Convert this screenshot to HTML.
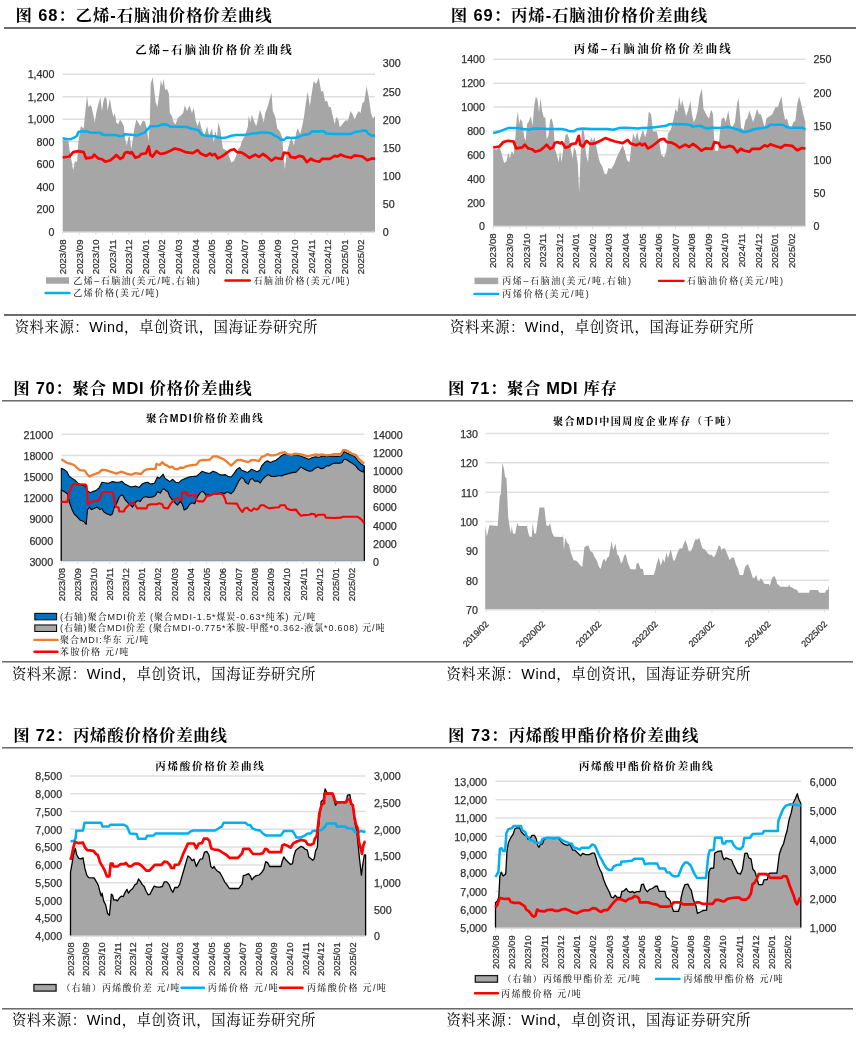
<!DOCTYPE html>
<html lang="zh-CN"><head><meta charset="utf-8"><title>图表</title>
<style>
html,body{margin:0;padding:0;background:#fff;}
body{width:862px;height:1059px;overflow:hidden;}
svg{display:block;}
text{font-family:"Liberation Sans","Noto Sans CJK SC",sans-serif;fill:#000;}
.ax{fill:#303030;stroke:#303030;stroke-width:0.25px;}
.hd{font-weight:bold;font-family:"Liberation Sans","Noto Serif CJK SC",serif;}
.src{font-family:"Liberation Sans","Noto Serif CJK SC",serif;}
.ct{font-weight:bold;font-family:"Liberation Sans","Noto Serif CJK SC",serif;fill:#000;}
.lg{font-family:"Liberation Sans","Noto Serif CJK SC",serif;fill:#262626;font-weight:500;}
</style></head><body>
<svg width="862" height="1059" viewBox="0 0 862 1059">
<rect width="862" height="1059" fill="#fff"/>
<rect x="4" y="27" width="852" height="2" fill="#6C6C6C"/>
<rect x="4" y="314" width="852" height="2" fill="#6C6C6C"/>
<rect x="2" y="400" width="851" height="1.55" fill="#6C6C6C"/>
<rect x="2" y="661" width="851" height="1.55" fill="#6C6C6C"/>
<rect x="2" y="747" width="851" height="1.55" fill="#6C6C6C"/>
<rect x="2" y="1008" width="851" height="1.55" fill="#6C6C6C"/>
<text x="15.40" y="20.60" font-size="16.46" text-anchor="start" class="hd" textLength="256.4" lengthAdjust="spacing">图 68：乙烯-石脑油价格价差曲线</text>
<text x="450.80" y="20.60" font-size="16.46" text-anchor="start" class="hd" textLength="256.3" lengthAdjust="spacing">图 69：丙烯-石脑油价格价差曲线</text>
<text x="13.30" y="393.80" font-size="16.46" text-anchor="start" class="hd" textLength="238.3" lengthAdjust="spacing">图 70：聚合 MDI 价格价差曲线</text>
<text x="448.10" y="393.80" font-size="16.46" text-anchor="start" class="hd" textLength="168.9" lengthAdjust="spacing">图 71：聚合 MDI 库存</text>
<text x="13.30" y="740.80" font-size="16.46" text-anchor="start" class="hd" textLength="213.7" lengthAdjust="spacing">图 72：丙烯酸价格价差曲线</text>
<text x="448.10" y="740.80" font-size="16.46" text-anchor="start" class="hd" textLength="250.3" lengthAdjust="spacing">图 73：丙烯酸甲酯价格价差曲线</text>
<text x="14.70" y="331.60" font-size="14.4" text-anchor="start" class="src" textLength="302.7" lengthAdjust="spacing">资料来源：Wind，卓创资讯，国海证券研究所</text>
<text x="450.10" y="331.60" font-size="14.4" text-anchor="start" class="src" textLength="303.5" lengthAdjust="spacing">资料来源：Wind，卓创资讯，国海证券研究所</text>
<text x="11.90" y="678.90" font-size="14.4" text-anchor="start" class="src" textLength="303.5" lengthAdjust="spacing">资料来源：Wind，卓创资讯，国海证券研究所</text>
<text x="446.40" y="678.90" font-size="14.4" text-anchor="start" class="src" textLength="303.9" lengthAdjust="spacing">资料来源：Wind，卓创资讯，国海证券研究所</text>
<text x="11.90" y="1024.90" font-size="14.4" text-anchor="start" class="src" textLength="303.5" lengthAdjust="spacing">资料来源：Wind，卓创资讯，国海证券研究所</text>
<text x="446.40" y="1024.90" font-size="14.4" text-anchor="start" class="src" textLength="303.9" lengthAdjust="spacing">资料来源：Wind，卓创资讯，国海证券研究所</text>
<line x1="62.70" y1="74.30" x2="375.00" y2="74.30" stroke="#DFDFDF" stroke-width="1.5"/>
<line x1="62.70" y1="96.81" x2="375.00" y2="96.81" stroke="#DFDFDF" stroke-width="1.5"/>
<line x1="62.70" y1="119.33" x2="375.00" y2="119.33" stroke="#DFDFDF" stroke-width="1.5"/>
<line x1="62.70" y1="141.84" x2="375.00" y2="141.84" stroke="#DFDFDF" stroke-width="1.5"/>
<line x1="62.70" y1="164.36" x2="375.00" y2="164.36" stroke="#DFDFDF" stroke-width="1.5"/>
<line x1="62.70" y1="186.87" x2="375.00" y2="186.87" stroke="#DFDFDF" stroke-width="1.5"/>
<line x1="62.70" y1="209.39" x2="375.00" y2="209.39" stroke="#DFDFDF" stroke-width="1.5"/>
<line x1="62.70" y1="231.90" x2="375.00" y2="231.90" stroke="#DFDFDF" stroke-width="1.5"/>
<line x1="62.70" y1="232.20" x2="375.00" y2="232.20" stroke="#DFDFDF" stroke-width="1.2"/>
<path d="M62.7 139.7 L68.4 140.6 L69.4 149.2 L73.2 170.3 L75.1 160.7 L77.0 162.6 L78.4 141.6 L80.8 126.3 L83.7 128.2 L85.2 112.9 L87.0 96.0 L88.5 107.1 L90.0 105.2 L91.4 106.2 L93.3 114.8 L94.8 122.4 L96.2 112.9 L98.1 105.2 L100.4 97.2 L101.9 110.9 L103.8 99.5 L105.2 96.6 L106.7 99.5 L107.6 110.9 L109.9 98.5 L111.5 109.0 L113.4 116.7 L114.9 112.9 L116.3 122.4 L118.2 124.3 L120.1 119.6 L122.0 122.4 L123.9 126.3 L124.9 137.7 L126.8 145.4 L128.3 137.7 L129.7 135.8 L131.2 149.2 L132.5 141.6 L134.4 128.2 L136.4 119.6 L138.3 122.4 L140.2 126.3 L143.1 120.5 L145.0 121.5 L146.9 128.2 L148.4 141.6 L149.8 122.4 L150.7 84.1 L152.6 76.9 L154.2 89.9 L155.5 101.4 L157.4 107.1 L159.3 93.7 L160.9 79.4 L162.2 86.1 L163.7 78.8 L165.1 89.9 L167.0 88.9 L168.9 93.7 L169.8 112.9 L171.8 115.7 L173.7 122.4 L175.6 124.3 L177.5 118.6 L180.4 115.7 L183.2 112.9 L184.8 105.2 L187.1 110.9 L189.6 105.2 L191.9 112.9 L193.8 108.1 L195.7 120.5 L197.6 126.3 L199.5 120.5 L201.4 128.2 L204.3 135.8 L207.2 126.3 L209.1 135.8 L212.0 128.2 L213.9 143.5 L215.0 130.1 L216.9 137.7 L218.4 122.4 L220.4 130.1 L221.9 141.6 L223.0 148.8 L226.5 150.2 L229.4 156.9 L231.3 162.6 L234.1 160.7 L236.4 155.0 L238.0 149.6 L240.3 146.4 L241.8 141.6 L243.7 137.7 L245.6 133.9 L247.9 126.3 L248.7 115.7 L250.4 122.4 L251.8 114.8 L254.2 121.5 L256.2 126.3 L258.1 118.6 L260.0 109.4 L261.9 115.7 L263.8 122.4 L265.2 112.9 L267.6 107.1 L269.6 99.5 L271.5 92.8 L272.8 110.9 L275.3 116.7 L277.2 128.2 L280.1 132.0 L282.4 137.7 L283.5 156.9 L284.9 169.3 L286.2 156.9 L287.7 149.2 L290.0 141.6 L291.6 137.7 L293.9 145.4 L296.4 132.0 L297.7 128.2 L300.2 133.9 L302.1 126.3 L304.0 116.7 L305.9 102.3 L307.8 91.8 L309.8 106.2 L311.7 93.7 L313.6 81.3 L316.1 84.1 L318.7 77.4 L321.2 91.8 L323.1 90.8 L325.1 101.4 L327.0 100.4 L328.9 107.1 L330.8 107.1 L332.7 115.7 L334.6 124.3 L336.5 116.7 L338.5 120.5 L339.8 127.2 L342.3 124.3 L345.2 120.5 L348.0 120.5 L350.5 110.9 L352.8 114.8 L354.7 119.6 L356.6 114.8 L358.6 110.9 L360.5 112.9 L362.4 103.3 L364.3 101.4 L366.6 86.1 L369.1 99.5 L371.0 112.9 L372.9 118.6 L375.0 115.7 L375.0 231.4 L62.7 231.4 Z" fill="#A6A6A6"/>
<path d="M62.7 138.3 L66.5 138.9 L70.3 139.3 L74.1 137.7 L77.0 135.8 L78.4 132.0 L80.8 131.4 L87.5 131.6 L89.5 132.4 L100.0 132.8 L101.9 134.3 L104.8 135.1 L116.3 135.1 L120.1 136.2 L123.0 135.8 L124.9 134.3 L131.6 134.7 L137.3 135.4 L141.1 133.9 L145.0 132.4 L147.8 129.1 L150.3 126.3 L158.4 125.9 L162.2 124.3 L167.9 124.9 L169.8 126.6 L187.1 127.0 L190.9 128.5 L198.6 130.1 L201.4 134.3 L204.3 135.4 L213.9 136.2 L215.0 136.2 L217.9 137.4 L222.7 138.1 L226.5 137.4 L231.3 135.8 L236.1 135.1 L243.7 135.1 L253.3 133.5 L260.9 132.4 L266.7 132.4 L271.5 133.5 L274.3 135.4 L278.2 137.4 L281.0 139.7 L284.3 139.7 L286.8 137.4 L291.6 138.1 L297.3 137.4 L303.1 134.9 L308.8 134.3 L311.7 131.6 L324.1 131.2 L326.0 133.5 L337.5 133.9 L350.9 133.9 L354.7 132.0 L360.5 131.2 L363.3 130.5 L366.2 130.8 L368.1 133.5 L372.0 135.8 L375.0 135.4" fill="none" stroke="#00B0F0" stroke-width="2.5" stroke-linejoin="round" stroke-linecap="butt"/>
<path d="M62.7 157.5 L69.4 156.5 L73.2 152.1 L78.0 151.1 L83.7 152.1 L86.0 158.4 L92.3 157.3 L94.2 154.6 L98.1 158.4 L101.9 159.2 L105.2 161.7 L110.5 160.3 L114.3 156.9 L116.3 155.0 L120.1 158.8 L123.0 157.3 L124.9 152.7 L127.7 152.1 L130.6 153.4 L131.6 152.1 L135.4 157.8 L139.2 156.5 L141.1 154.0 L145.9 153.4 L148.8 146.4 L150.3 155.0 L152.6 156.5 L156.5 151.1 L160.3 154.0 L164.1 153.4 L169.8 151.1 L174.6 148.5 L179.4 149.6 L185.2 152.1 L192.8 153.1 L197.6 150.2 L200.5 153.4 L206.2 155.9 L210.0 153.4 L212.0 155.3 L214.8 154.0 L217.9 158.4 L221.7 156.5 L226.5 153.1 L230.3 150.2 L234.1 149.2 L237.0 152.1 L241.8 152.7 L245.6 155.0 L249.5 157.8 L255.2 154.6 L259.0 156.9 L262.9 154.0 L266.7 156.5 L271.5 160.7 L275.3 157.8 L278.2 158.4 L282.0 158.8 L283.9 152.7 L288.7 153.4 L290.6 156.9 L295.4 157.8 L299.2 155.9 L303.1 156.9 L306.9 162.2 L310.7 158.8 L314.5 160.7 L319.3 161.7 L322.2 158.8 L329.8 158.8 L334.6 155.9 L337.5 156.5 L340.4 154.6 L345.2 156.5 L350.9 157.8 L354.7 155.3 L362.4 156.5 L367.2 160.3 L372.0 158.4 L375.0 158.8" fill="none" stroke="#FF0000" stroke-width="2.7" stroke-linejoin="round" stroke-linecap="butt"/>
<line x1="62.70" y1="231.90" x2="62.70" y2="234.90" stroke="#DFDFDF" stroke-width="1"/>
<line x1="79.27" y1="231.90" x2="79.27" y2="234.90" stroke="#DFDFDF" stroke-width="1"/>
<line x1="95.84" y1="231.90" x2="95.84" y2="234.90" stroke="#DFDFDF" stroke-width="1"/>
<line x1="112.41" y1="231.90" x2="112.41" y2="234.90" stroke="#DFDFDF" stroke-width="1"/>
<line x1="128.98" y1="231.90" x2="128.98" y2="234.90" stroke="#DFDFDF" stroke-width="1"/>
<line x1="145.55" y1="231.90" x2="145.55" y2="234.90" stroke="#DFDFDF" stroke-width="1"/>
<line x1="162.12" y1="231.90" x2="162.12" y2="234.90" stroke="#DFDFDF" stroke-width="1"/>
<line x1="178.69" y1="231.90" x2="178.69" y2="234.90" stroke="#DFDFDF" stroke-width="1"/>
<line x1="195.26" y1="231.90" x2="195.26" y2="234.90" stroke="#DFDFDF" stroke-width="1"/>
<line x1="211.83" y1="231.90" x2="211.83" y2="234.90" stroke="#DFDFDF" stroke-width="1"/>
<line x1="228.40" y1="231.90" x2="228.40" y2="234.90" stroke="#DFDFDF" stroke-width="1"/>
<line x1="244.97" y1="231.90" x2="244.97" y2="234.90" stroke="#DFDFDF" stroke-width="1"/>
<line x1="261.54" y1="231.90" x2="261.54" y2="234.90" stroke="#DFDFDF" stroke-width="1"/>
<line x1="278.11" y1="231.90" x2="278.11" y2="234.90" stroke="#DFDFDF" stroke-width="1"/>
<line x1="294.68" y1="231.90" x2="294.68" y2="234.90" stroke="#DFDFDF" stroke-width="1"/>
<line x1="311.25" y1="231.90" x2="311.25" y2="234.90" stroke="#DFDFDF" stroke-width="1"/>
<line x1="327.82" y1="231.90" x2="327.82" y2="234.90" stroke="#DFDFDF" stroke-width="1"/>
<line x1="344.39" y1="231.90" x2="344.39" y2="234.90" stroke="#DFDFDF" stroke-width="1"/>
<line x1="360.96" y1="231.90" x2="360.96" y2="234.90" stroke="#DFDFDF" stroke-width="1"/>
<text x="54.40" y="78.40" font-size="10.7" text-anchor="end" class="ax">1,400</text>
<text x="54.40" y="100.91" font-size="10.7" text-anchor="end" class="ax">1,200</text>
<text x="54.40" y="123.43" font-size="10.7" text-anchor="end" class="ax">1,000</text>
<text x="54.40" y="145.94" font-size="10.7" text-anchor="end" class="ax">800</text>
<text x="54.40" y="168.46" font-size="10.7" text-anchor="end" class="ax">600</text>
<text x="54.40" y="190.97" font-size="10.7" text-anchor="end" class="ax">400</text>
<text x="54.40" y="213.49" font-size="10.7" text-anchor="end" class="ax">200</text>
<text x="54.40" y="236.00" font-size="10.7" text-anchor="end" class="ax">0</text>
<text x="382.80" y="67.40" font-size="10.7" text-anchor="start" class="ax">300</text>
<text x="382.80" y="95.50" font-size="10.7" text-anchor="start" class="ax">250</text>
<text x="382.80" y="123.60" font-size="10.7" text-anchor="start" class="ax">200</text>
<text x="382.80" y="151.70" font-size="10.7" text-anchor="start" class="ax">150</text>
<text x="382.80" y="179.80" font-size="10.7" text-anchor="start" class="ax">100</text>
<text x="382.80" y="207.90" font-size="10.7" text-anchor="start" class="ax">50</text>
<text x="382.80" y="236.00" font-size="10.7" text-anchor="start" class="ax">0</text>
<text x="66.00" y="239.50" font-size="9.6" text-anchor="end" class="ax" transform="rotate(-90 66.00 239.50)">2023/08</text>
<text x="82.57" y="239.50" font-size="9.6" text-anchor="end" class="ax" transform="rotate(-90 82.57 239.50)">2023/09</text>
<text x="99.14" y="239.50" font-size="9.6" text-anchor="end" class="ax" transform="rotate(-90 99.14 239.50)">2023/10</text>
<text x="115.71" y="239.50" font-size="9.6" text-anchor="end" class="ax" transform="rotate(-90 115.71 239.50)">2023/11</text>
<text x="132.28" y="239.50" font-size="9.6" text-anchor="end" class="ax" transform="rotate(-90 132.28 239.50)">2023/12</text>
<text x="148.85" y="239.50" font-size="9.6" text-anchor="end" class="ax" transform="rotate(-90 148.85 239.50)">2024/01</text>
<text x="165.42" y="239.50" font-size="9.6" text-anchor="end" class="ax" transform="rotate(-90 165.42 239.50)">2024/02</text>
<text x="181.99" y="239.50" font-size="9.6" text-anchor="end" class="ax" transform="rotate(-90 181.99 239.50)">2024/03</text>
<text x="198.56" y="239.50" font-size="9.6" text-anchor="end" class="ax" transform="rotate(-90 198.56 239.50)">2024/04</text>
<text x="215.13" y="239.50" font-size="9.6" text-anchor="end" class="ax" transform="rotate(-90 215.13 239.50)">2024/05</text>
<text x="231.70" y="239.50" font-size="9.6" text-anchor="end" class="ax" transform="rotate(-90 231.70 239.50)">2024/06</text>
<text x="248.27" y="239.50" font-size="9.6" text-anchor="end" class="ax" transform="rotate(-90 248.27 239.50)">2024/07</text>
<text x="264.84" y="239.50" font-size="9.6" text-anchor="end" class="ax" transform="rotate(-90 264.84 239.50)">2024/08</text>
<text x="281.41" y="239.50" font-size="9.6" text-anchor="end" class="ax" transform="rotate(-90 281.41 239.50)">2024/09</text>
<text x="297.98" y="239.50" font-size="9.6" text-anchor="end" class="ax" transform="rotate(-90 297.98 239.50)">2024/10</text>
<text x="314.55" y="239.50" font-size="9.6" text-anchor="end" class="ax" transform="rotate(-90 314.55 239.50)">2024/11</text>
<text x="331.12" y="239.50" font-size="9.6" text-anchor="end" class="ax" transform="rotate(-90 331.12 239.50)">2024/12</text>
<text x="347.69" y="239.50" font-size="9.6" text-anchor="end" class="ax" transform="rotate(-90 347.69 239.50)">2025/01</text>
<text x="364.26" y="239.50" font-size="9.6" text-anchor="end" class="ax" transform="rotate(-90 364.26 239.50)">2025/02</text>
<text x="135.20" y="54.30" font-size="11.44" text-anchor="start" class="ct" textLength="156.6" lengthAdjust="spacing">乙烯–石脑油价格价差曲线</text>
<rect x="46.00" y="277.25" width="23.00" height="6.50" fill="#A6A6A6"/>
<text x="73.30" y="283.70" font-size="9.0" text-anchor="start" class="lg" textLength="126.4" lengthAdjust="spacing">乙烯–石脑油(美元/吨,右轴)</text>
<line x1="225.50" y1="280.50" x2="249.80" y2="280.50" stroke="#FF0000" stroke-width="2.4" stroke-linecap="round"/>
<text x="253.40" y="283.70" font-size="9.0" text-anchor="start" class="lg" textLength="96.0" lengthAdjust="spacing">石脑油价格(美元/吨)</text>
<line x1="45.50" y1="293.00" x2="69.50" y2="293.00" stroke="#00B0F0" stroke-width="2.4" stroke-linecap="round"/>
<text x="73.30" y="296.20" font-size="9.0" text-anchor="start" class="lg" textLength="85.5" lengthAdjust="spacing">乙烯价格(美元/吨)</text>
<line x1="493.20" y1="59.30" x2="805.50" y2="59.30" stroke="#DFDFDF" stroke-width="1.5"/>
<line x1="493.20" y1="83.16" x2="805.50" y2="83.16" stroke="#DFDFDF" stroke-width="1.5"/>
<line x1="493.20" y1="107.01" x2="805.50" y2="107.01" stroke="#DFDFDF" stroke-width="1.5"/>
<line x1="493.20" y1="130.87" x2="805.50" y2="130.87" stroke="#DFDFDF" stroke-width="1.5"/>
<line x1="493.20" y1="154.73" x2="805.50" y2="154.73" stroke="#DFDFDF" stroke-width="1.5"/>
<line x1="493.20" y1="178.59" x2="805.50" y2="178.59" stroke="#DFDFDF" stroke-width="1.5"/>
<line x1="493.20" y1="202.44" x2="805.50" y2="202.44" stroke="#DFDFDF" stroke-width="1.5"/>
<line x1="493.20" y1="226.30" x2="805.50" y2="226.30" stroke="#DFDFDF" stroke-width="1.5"/>
<line x1="493.20" y1="226.60" x2="805.50" y2="226.60" stroke="#DFDFDF" stroke-width="1.2"/>
<path d="M493.2 148.8 L496.5 149.8 L499.4 146.9 L501.3 152.6 L504.1 163.1 L506.4 161.2 L508.4 152.6 L509.9 158.4 L511.8 150.7 L513.7 154.5 L515.2 139.2 L516.6 120.1 L517.9 111.5 L519.1 123.9 L520.4 119.1 L522.3 122.0 L524.2 137.3 L525.6 141.1 L527.1 123.9 L528.6 122.0 L530.9 116.3 L532.5 125.8 L534.4 104.8 L535.9 96.2 L537.6 100.0 L539.0 112.4 L540.5 98.1 L542.0 110.5 L544.0 118.2 L545.3 116.3 L546.6 139.2 L548.5 135.4 L550.1 120.1 L551.6 118.2 L553.5 125.8 L554.9 148.8 L556.8 154.5 L558.7 162.2 L560.0 150.7 L561.6 162.2 L563.5 146.9 L565.4 135.4 L567.3 133.5 L569.2 139.2 L571.1 150.7 L572.7 158.4 L574.0 146.9 L575.9 150.7 L577.8 164.1 L579.2 192.8 L580.3 162.2 L581.7 131.6 L583.0 127.7 L584.5 135.4 L586.1 154.5 L588.0 162.2 L589.3 145.0 L591.2 137.3 L592.6 141.1 L594.5 137.3 L596.0 145.0 L597.9 154.5 L599.8 162.2 L602.1 166.0 L604.6 173.7 L606.5 174.6 L608.5 167.9 L611.3 168.9 L614.2 164.1 L617.1 156.5 L619.9 150.7 L622.8 145.0 L624.7 150.7 L627.0 160.3 L629.5 162.2 L631.4 145.0 L633.3 133.5 L635.3 139.2 L637.2 131.6 L639.1 141.1 L641.0 135.4 L642.9 129.7 L645.0 137.3 L646.9 131.6 L648.8 111.5 L651.1 114.3 L653.0 131.6 L655.0 131.6 L656.9 131.6 L659.4 143.1 L661.3 154.5 L664.1 157.4 L666.4 150.7 L668.0 133.5 L670.8 129.7 L673.7 118.2 L675.6 108.6 L677.5 112.4 L679.1 96.2 L681.0 106.7 L682.3 100.0 L684.2 108.6 L686.2 116.3 L688.1 110.5 L690.4 100.9 L691.9 114.3 L693.8 122.0 L695.7 118.2 L697.6 110.5 L699.6 96.2 L701.9 88.5 L703.4 108.6 L705.3 112.4 L707.2 116.3 L709.1 118.2 L711.0 109.6 L713.0 114.3 L713.9 135.4 L715.1 150.7 L718.1 150.7 L720.0 131.6 L721.6 119.1 L723.9 117.2 L725.8 122.0 L728.3 110.5 L730.2 123.9 L732.1 127.7 L735.0 122.0 L736.9 104.8 L738.4 97.5 L739.8 112.4 L741.1 127.7 L743.6 129.7 L745.5 120.1 L747.4 118.2 L749.3 110.5 L751.2 116.3 L753.1 122.0 L755.1 116.3 L757.0 108.6 L758.9 114.3 L760.8 114.3 L762.7 120.1 L764.6 127.7 L766.5 118.2 L769.4 116.3 L772.3 114.3 L775.2 107.6 L778.0 106.7 L779.9 100.9 L781.5 96.2 L783.2 110.5 L785.1 120.1 L787.0 118.2 L788.9 125.8 L791.4 127.7 L793.3 122.0 L795.3 121.0 L797.2 104.8 L799.1 96.2 L801.0 102.9 L802.9 112.4 L805.4 122.0 L805.4 225.8 L493.2 225.8 Z" fill="#A6A6A6"/>
<path d="M493.2 133.1 L496.5 132.3 L500.3 131.2 L504.1 129.7 L508.0 128.1 L517.5 128.1 L523.3 128.9 L529.0 129.7 L534.8 128.5 L542.4 128.7 L550.1 128.9 L561.6 128.9 L565.4 129.7 L569.2 131.2 L574.0 131.2 L576.9 129.3 L582.6 128.5 L592.2 128.9 L607.5 128.9 L613.2 129.7 L619.0 128.1 L624.7 127.7 L630.5 128.1 L638.1 128.5 L643.9 127.7 L645.0 128.1 L652.7 127.4 L660.3 126.6 L666.1 125.8 L668.9 124.3 L673.7 123.9 L683.3 124.3 L690.0 124.7 L692.9 126.6 L700.5 125.8 L704.3 127.7 L708.2 128.5 L712.0 127.7 L719.7 128.1 L727.3 127.0 L733.1 128.1 L738.8 130.0 L743.6 132.3 L748.4 131.2 L754.1 129.3 L761.8 128.1 L767.5 127.0 L770.4 124.7 L782.8 124.7 L786.6 127.0 L790.5 127.7 L802.0 127.7 L805.4 129.3" fill="none" stroke="#00B0F0" stroke-width="2.5" stroke-linejoin="round" stroke-linecap="butt"/>
<path d="M493.2 147.5 L499.4 146.5 L503.2 142.1 L508.0 140.8 L513.7 141.5 L516.0 148.4 L522.3 147.3 L524.8 144.6 L528.1 148.4 L531.9 149.2 L535.2 151.7 L540.5 150.3 L544.3 146.9 L546.6 144.6 L550.1 148.8 L553.0 147.3 L554.9 142.7 L557.7 142.1 L560.6 143.4 L561.9 142.1 L565.4 147.8 L569.2 146.5 L571.5 144.0 L575.9 143.4 L578.8 135.8 L580.3 145.0 L583.0 146.5 L586.5 140.8 L590.3 144.0 L594.5 143.4 L599.8 141.1 L605.2 138.1 L609.4 139.6 L615.2 141.5 L622.8 143.1 L627.6 139.8 L630.5 143.4 L636.2 145.3 L640.0 143.4 L642.0 145.3 L644.8 143.6 L647.9 148.4 L651.7 146.5 L656.5 142.7 L660.3 139.6 L664.1 138.8 L667.0 142.1 L671.8 142.7 L675.6 144.6 L679.5 147.8 L685.2 144.6 L689.0 146.9 L692.9 144.0 L696.7 146.5 L701.5 150.7 L705.3 148.4 L712.0 148.8 L714.3 142.1 L718.7 143.1 L720.6 146.9 L725.4 147.3 L729.2 145.9 L733.1 146.9 L737.3 152.2 L740.7 148.8 L744.5 150.7 L749.3 151.7 L752.2 148.8 L759.8 148.8 L764.6 145.3 L767.5 146.5 L770.4 144.2 L775.2 145.9 L780.9 147.8 L784.7 145.0 L792.4 145.9 L797.2 150.3 L802.0 148.0 L805.4 148.8" fill="none" stroke="#FF0000" stroke-width="2.7" stroke-linejoin="round" stroke-linecap="butt"/>
<line x1="493.20" y1="226.30" x2="493.20" y2="229.30" stroke="#DFDFDF" stroke-width="1"/>
<line x1="509.77" y1="226.30" x2="509.77" y2="229.30" stroke="#DFDFDF" stroke-width="1"/>
<line x1="526.34" y1="226.30" x2="526.34" y2="229.30" stroke="#DFDFDF" stroke-width="1"/>
<line x1="542.91" y1="226.30" x2="542.91" y2="229.30" stroke="#DFDFDF" stroke-width="1"/>
<line x1="559.48" y1="226.30" x2="559.48" y2="229.30" stroke="#DFDFDF" stroke-width="1"/>
<line x1="576.05" y1="226.30" x2="576.05" y2="229.30" stroke="#DFDFDF" stroke-width="1"/>
<line x1="592.62" y1="226.30" x2="592.62" y2="229.30" stroke="#DFDFDF" stroke-width="1"/>
<line x1="609.19" y1="226.30" x2="609.19" y2="229.30" stroke="#DFDFDF" stroke-width="1"/>
<line x1="625.76" y1="226.30" x2="625.76" y2="229.30" stroke="#DFDFDF" stroke-width="1"/>
<line x1="642.33" y1="226.30" x2="642.33" y2="229.30" stroke="#DFDFDF" stroke-width="1"/>
<line x1="658.90" y1="226.30" x2="658.90" y2="229.30" stroke="#DFDFDF" stroke-width="1"/>
<line x1="675.47" y1="226.30" x2="675.47" y2="229.30" stroke="#DFDFDF" stroke-width="1"/>
<line x1="692.04" y1="226.30" x2="692.04" y2="229.30" stroke="#DFDFDF" stroke-width="1"/>
<line x1="708.61" y1="226.30" x2="708.61" y2="229.30" stroke="#DFDFDF" stroke-width="1"/>
<line x1="725.18" y1="226.30" x2="725.18" y2="229.30" stroke="#DFDFDF" stroke-width="1"/>
<line x1="741.75" y1="226.30" x2="741.75" y2="229.30" stroke="#DFDFDF" stroke-width="1"/>
<line x1="758.32" y1="226.30" x2="758.32" y2="229.30" stroke="#DFDFDF" stroke-width="1"/>
<line x1="774.89" y1="226.30" x2="774.89" y2="229.30" stroke="#DFDFDF" stroke-width="1"/>
<line x1="791.46" y1="226.30" x2="791.46" y2="229.30" stroke="#DFDFDF" stroke-width="1"/>
<text x="485.00" y="63.40" font-size="10.7" text-anchor="end" class="ax">1400</text>
<text x="485.00" y="87.26" font-size="10.7" text-anchor="end" class="ax">1200</text>
<text x="485.00" y="111.11" font-size="10.7" text-anchor="end" class="ax">1000</text>
<text x="485.00" y="134.97" font-size="10.7" text-anchor="end" class="ax">800</text>
<text x="485.00" y="158.83" font-size="10.7" text-anchor="end" class="ax">600</text>
<text x="485.00" y="182.69" font-size="10.7" text-anchor="end" class="ax">400</text>
<text x="485.00" y="206.54" font-size="10.7" text-anchor="end" class="ax">200</text>
<text x="485.00" y="230.40" font-size="10.7" text-anchor="end" class="ax">0</text>
<text x="813.50" y="63.40" font-size="10.7" text-anchor="start" class="ax">250</text>
<text x="813.50" y="96.80" font-size="10.7" text-anchor="start" class="ax">200</text>
<text x="813.50" y="130.20" font-size="10.7" text-anchor="start" class="ax">150</text>
<text x="813.50" y="163.60" font-size="10.7" text-anchor="start" class="ax">100</text>
<text x="813.50" y="197.00" font-size="10.7" text-anchor="start" class="ax">50</text>
<text x="813.50" y="230.40" font-size="10.7" text-anchor="start" class="ax">0</text>
<text x="496.50" y="233.40" font-size="9.6" text-anchor="end" class="ax" transform="rotate(-90 496.50 233.40)">2023/08</text>
<text x="513.07" y="233.40" font-size="9.6" text-anchor="end" class="ax" transform="rotate(-90 513.07 233.40)">2023/09</text>
<text x="529.64" y="233.40" font-size="9.6" text-anchor="end" class="ax" transform="rotate(-90 529.64 233.40)">2023/10</text>
<text x="546.21" y="233.40" font-size="9.6" text-anchor="end" class="ax" transform="rotate(-90 546.21 233.40)">2023/11</text>
<text x="562.78" y="233.40" font-size="9.6" text-anchor="end" class="ax" transform="rotate(-90 562.78 233.40)">2023/12</text>
<text x="579.35" y="233.40" font-size="9.6" text-anchor="end" class="ax" transform="rotate(-90 579.35 233.40)">2024/01</text>
<text x="595.92" y="233.40" font-size="9.6" text-anchor="end" class="ax" transform="rotate(-90 595.92 233.40)">2024/02</text>
<text x="612.49" y="233.40" font-size="9.6" text-anchor="end" class="ax" transform="rotate(-90 612.49 233.40)">2024/03</text>
<text x="629.06" y="233.40" font-size="9.6" text-anchor="end" class="ax" transform="rotate(-90 629.06 233.40)">2024/04</text>
<text x="645.63" y="233.40" font-size="9.6" text-anchor="end" class="ax" transform="rotate(-90 645.63 233.40)">2024/05</text>
<text x="662.20" y="233.40" font-size="9.6" text-anchor="end" class="ax" transform="rotate(-90 662.20 233.40)">2024/06</text>
<text x="678.77" y="233.40" font-size="9.6" text-anchor="end" class="ax" transform="rotate(-90 678.77 233.40)">2024/07</text>
<text x="695.34" y="233.40" font-size="9.6" text-anchor="end" class="ax" transform="rotate(-90 695.34 233.40)">2024/08</text>
<text x="711.91" y="233.40" font-size="9.6" text-anchor="end" class="ax" transform="rotate(-90 711.91 233.40)">2024/09</text>
<text x="728.48" y="233.40" font-size="9.6" text-anchor="end" class="ax" transform="rotate(-90 728.48 233.40)">2024/10</text>
<text x="745.05" y="233.40" font-size="9.6" text-anchor="end" class="ax" transform="rotate(-90 745.05 233.40)">2024/11</text>
<text x="761.62" y="233.40" font-size="9.6" text-anchor="end" class="ax" transform="rotate(-90 761.62 233.40)">2024/12</text>
<text x="778.19" y="233.40" font-size="9.6" text-anchor="end" class="ax" transform="rotate(-90 778.19 233.40)">2025/01</text>
<text x="794.76" y="233.40" font-size="9.6" text-anchor="end" class="ax" transform="rotate(-90 794.76 233.40)">2025/02</text>
<text x="573.70" y="53.20" font-size="11.44" text-anchor="start" class="ct" textLength="157.1" lengthAdjust="spacing">丙烯–石脑油价格价差曲线</text>
<rect x="474.50" y="277.65" width="23.70" height="6.50" fill="#A6A6A6"/>
<text x="502.20" y="284.10" font-size="9.0" text-anchor="start" class="lg" textLength="128.7" lengthAdjust="spacing">丙烯–石脑油(美元/吨,右轴)</text>
<line x1="659.00" y1="280.90" x2="683.50" y2="280.90" stroke="#FF0000" stroke-width="2.4" stroke-linecap="round"/>
<text x="686.80" y="284.10" font-size="9.0" text-anchor="start" class="lg" textLength="96.3" lengthAdjust="spacing">石脑油价格(美元/吨)</text>
<line x1="474.50" y1="293.90" x2="498.20" y2="293.90" stroke="#00B0F0" stroke-width="2.4" stroke-linecap="round"/>
<text x="502.20" y="297.10" font-size="9.0" text-anchor="start" class="lg" textLength="86.6" lengthAdjust="spacing">丙烯价格(美元/吨)</text>
<line x1="61.30" y1="434.30" x2="364.30" y2="434.30" stroke="#DFDFDF" stroke-width="1.5"/>
<line x1="61.30" y1="455.47" x2="364.30" y2="455.47" stroke="#DFDFDF" stroke-width="1.5"/>
<line x1="61.30" y1="476.63" x2="364.30" y2="476.63" stroke="#DFDFDF" stroke-width="1.5"/>
<line x1="61.30" y1="497.80" x2="364.30" y2="497.80" stroke="#DFDFDF" stroke-width="1.5"/>
<line x1="61.30" y1="518.97" x2="364.30" y2="518.97" stroke="#DFDFDF" stroke-width="1.5"/>
<line x1="61.30" y1="540.13" x2="364.30" y2="540.13" stroke="#DFDFDF" stroke-width="1.5"/>
<line x1="61.30" y1="561.30" x2="364.30" y2="561.30" stroke="#DFDFDF" stroke-width="1.5"/>
<line x1="61.30" y1="561.60" x2="364.30" y2="561.60" stroke="#DFDFDF" stroke-width="1.2"/>
<path d="M61.3 468.2 L64.6 469.8 L66.9 471.7 L69.4 476.5 L72.2 478.4 L75.1 480.3 L78.0 483.2 L81.8 485.1 L85.6 486.0 L87.5 490.8 L90.4 492.7 L93.3 491.2 L96.2 490.4 L99.0 488.0 L101.9 482.2 L104.8 482.8 L108.6 483.2 L112.4 481.6 L116.3 482.2 L119.1 482.2 L122.0 481.3 L124.9 484.1 L128.7 486.0 L131.6 487.0 L135.4 486.0 L139.2 487.4 L142.1 484.1 L145.0 482.8 L147.8 482.2 L150.7 484.1 L154.5 483.2 L157.4 477.0 L159.3 478.4 L161.2 476.5 L163.1 474.2 L165.1 478.4 L167.9 480.3 L169.8 481.6 L172.7 479.3 L175.6 482.2 L178.5 482.8 L181.3 480.3 L185.2 478.4 L189.0 477.0 L192.8 476.5 L196.6 476.1 L199.5 473.6 L202.0 471.3 L205.3 472.6 L208.1 473.2 L210.0 473.2 L212.9 471.3 L216.7 472.6 L219.6 474.6 L222.4 475.1 L225.3 474.6 L228.2 476.5 L231.1 477.0 L233.9 473.6 L236.8 469.4 L239.7 467.5 L241.6 470.2 L244.5 471.3 L247.3 472.6 L249.2 471.3 L251.2 469.4 L254.0 470.2 L256.9 471.7 L259.8 470.2 L261.7 465.9 L264.6 462.5 L267.4 460.8 L270.3 462.5 L273.2 461.2 L276.0 460.2 L278.9 457.9 L281.8 455.4 L284.7 454.1 L287.5 455.0 L291.4 455.4 L295.2 454.5 L299.0 455.4 L301.9 456.4 L305.7 457.9 L308.6 459.2 L311.5 457.9 L315.3 456.8 L319.1 457.3 L322.9 456.0 L326.8 456.8 L330.6 456.0 L334.4 456.4 L338.2 456.4 L341.1 456.0 L344.0 451.6 L346.9 452.9 L349.7 454.5 L352.6 455.4 L355.5 457.3 L358.3 461.2 L361.2 464.0 L364.3 465.9 L364.3 560.8 L61.3 560.8 Z" fill="#0070C0"/>
<path d="M61.3 560.8 L61.3 468.2 L64.6 469.8 L66.9 471.7 L69.4 476.5 L72.2 478.4 L75.1 480.3 L78.0 483.2 L81.8 485.1 L85.6 486.0 L87.5 490.8 L90.4 492.7 L93.3 491.2 L96.2 490.4 L99.0 488.0 L101.9 482.2 L104.8 482.8 L108.6 483.2 L112.4 481.6 L116.3 482.2 L119.1 482.2 L122.0 481.3 L124.9 484.1 L128.7 486.0 L131.6 487.0 L135.4 486.0 L139.2 487.4 L142.1 484.1 L145.0 482.8 L147.8 482.2 L150.7 484.1 L154.5 483.2 L157.4 477.0 L159.3 478.4 L161.2 476.5 L163.1 474.2 L165.1 478.4 L167.9 480.3 L169.8 481.6 L172.7 479.3 L175.6 482.2 L178.5 482.8 L181.3 480.3 L185.2 478.4 L189.0 477.0 L192.8 476.5 L196.6 476.1 L199.5 473.6 L202.0 471.3 L205.3 472.6 L208.1 473.2 L210.0 473.2 L212.9 471.3 L216.7 472.6 L219.6 474.6 L222.4 475.1 L225.3 474.6 L228.2 476.5 L231.1 477.0 L233.9 473.6 L236.8 469.4 L239.7 467.5 L241.6 470.2 L244.5 471.3 L247.3 472.6 L249.2 471.3 L251.2 469.4 L254.0 470.2 L256.9 471.7 L259.8 470.2 L261.7 465.9 L264.6 462.5 L267.4 460.8 L270.3 462.5 L273.2 461.2 L276.0 460.2 L278.9 457.9 L281.8 455.4 L284.7 454.1 L287.5 455.0 L291.4 455.4 L295.2 454.5 L299.0 455.4 L301.9 456.4 L305.7 457.9 L308.6 459.2 L311.5 457.9 L315.3 456.8 L319.1 457.3 L322.9 456.0 L326.8 456.8 L330.6 456.0 L334.4 456.4 L338.2 456.4 L341.1 456.0 L344.0 451.6 L346.9 452.9 L349.7 454.5 L352.6 455.4 L355.5 457.3 L358.3 461.2 L361.2 464.0 L364.3 465.9 L364.3 560.8" fill="none" stroke="#000" stroke-width="1.1" stroke-linejoin="round"/>
<path d="M61.3 489.9 L64.6 491.8 L67.4 493.7 L69.4 502.3 L72.2 510.0 L74.1 513.8 L77.0 516.7 L79.9 519.9 L83.7 521.5 L86.2 524.3 L87.5 510.0 L89.5 507.1 L91.4 509.6 L94.2 508.4 L97.1 507.1 L100.0 509.6 L101.9 508.4 L103.8 511.9 L106.7 513.8 L110.5 515.3 L112.4 513.8 L114.3 507.1 L116.3 504.2 L119.1 497.5 L121.0 495.0 L123.0 495.6 L124.9 499.4 L127.7 502.7 L130.6 505.2 L132.5 507.1 L134.4 504.2 L137.3 500.4 L140.2 501.4 L143.1 497.5 L145.9 496.6 L148.8 497.5 L152.6 496.9 L155.5 495.6 L157.4 491.8 L160.3 493.1 L162.2 489.9 L164.1 488.5 L166.0 490.8 L167.9 491.8 L169.8 496.6 L172.7 500.4 L175.6 503.3 L177.5 505.2 L180.4 501.4 L182.3 504.2 L184.2 510.0 L187.1 508.4 L189.0 505.2 L191.9 502.7 L194.7 503.8 L197.6 496.6 L200.5 492.4 L202.4 491.2 L204.3 492.7 L206.2 495.6 L208.1 494.3 L210.0 495.6 L213.8 493.7 L217.7 494.3 L221.5 492.7 L224.4 493.7 L227.2 491.8 L231.1 493.7 L233.9 490.8 L236.8 485.1 L238.7 480.9 L241.6 477.4 L243.5 478.4 L245.4 482.2 L248.3 484.1 L250.2 479.7 L252.1 478.4 L255.0 481.3 L257.9 480.9 L260.2 483.2 L262.6 479.3 L265.5 476.5 L268.4 474.6 L271.3 476.5 L275.1 476.5 L278.9 475.5 L281.8 475.9 L284.7 474.6 L288.5 473.6 L292.3 472.6 L296.1 472.1 L298.1 470.2 L300.9 466.9 L303.8 468.8 L306.7 470.2 L309.5 471.3 L312.4 470.7 L315.3 468.2 L318.1 466.9 L321.0 468.8 L323.9 467.9 L326.8 465.9 L329.6 465.6 L332.5 463.6 L336.3 463.1 L340.2 463.1 L342.1 462.5 L344.0 459.2 L346.9 459.8 L349.7 461.7 L352.6 463.6 L355.5 465.6 L358.3 469.4 L361.2 471.3 L363.1 472.1 L364.3 466.9 L364.3 560.8 L61.3 560.8 Z" fill="#A6A6A6"/>
<path d="M61.3 560.8 L61.3 489.9 L64.6 491.8 L67.4 493.7 L69.4 502.3 L72.2 510.0 L74.1 513.8 L77.0 516.7 L79.9 519.9 L83.7 521.5 L86.2 524.3 L87.5 510.0 L89.5 507.1 L91.4 509.6 L94.2 508.4 L97.1 507.1 L100.0 509.6 L101.9 508.4 L103.8 511.9 L106.7 513.8 L110.5 515.3 L112.4 513.8 L114.3 507.1 L116.3 504.2 L119.1 497.5 L121.0 495.0 L123.0 495.6 L124.9 499.4 L127.7 502.7 L130.6 505.2 L132.5 507.1 L134.4 504.2 L137.3 500.4 L140.2 501.4 L143.1 497.5 L145.9 496.6 L148.8 497.5 L152.6 496.9 L155.5 495.6 L157.4 491.8 L160.3 493.1 L162.2 489.9 L164.1 488.5 L166.0 490.8 L167.9 491.8 L169.8 496.6 L172.7 500.4 L175.6 503.3 L177.5 505.2 L180.4 501.4 L182.3 504.2 L184.2 510.0 L187.1 508.4 L189.0 505.2 L191.9 502.7 L194.7 503.8 L197.6 496.6 L200.5 492.4 L202.4 491.2 L204.3 492.7 L206.2 495.6 L208.1 494.3 L210.0 495.6 L213.8 493.7 L217.7 494.3 L221.5 492.7 L224.4 493.7 L227.2 491.8 L231.1 493.7 L233.9 490.8 L236.8 485.1 L238.7 480.9 L241.6 477.4 L243.5 478.4 L245.4 482.2 L248.3 484.1 L250.2 479.7 L252.1 478.4 L255.0 481.3 L257.9 480.9 L260.2 483.2 L262.6 479.3 L265.5 476.5 L268.4 474.6 L271.3 476.5 L275.1 476.5 L278.9 475.5 L281.8 475.9 L284.7 474.6 L288.5 473.6 L292.3 472.6 L296.1 472.1 L298.1 470.2 L300.9 466.9 L303.8 468.8 L306.7 470.2 L309.5 471.3 L312.4 470.7 L315.3 468.2 L318.1 466.9 L321.0 468.8 L323.9 467.9 L326.8 465.9 L329.6 465.6 L332.5 463.6 L336.3 463.1 L340.2 463.1 L342.1 462.5 L344.0 459.2 L346.9 459.8 L349.7 461.7 L352.6 463.6 L355.5 465.6 L358.3 469.4 L361.2 471.3 L363.1 472.1 L364.3 466.9 L364.3 560.8" fill="none" stroke="#000" stroke-width="1.1" stroke-linejoin="round"/>
<path d="M61.3 459.2 L64.6 461.2 L67.4 463.1 L70.3 463.6 L74.1 465.0 L77.0 467.9 L79.9 470.2 L84.7 470.7 L87.5 474.6 L89.8 476.5 L93.3 474.6 L96.2 473.6 L99.0 472.6 L101.9 469.8 L105.7 470.2 L109.6 471.3 L113.4 472.6 L116.3 473.6 L121.0 471.7 L123.9 472.6 L127.7 474.0 L131.6 474.6 L135.4 473.2 L141.1 474.0 L144.0 470.7 L146.9 469.4 L150.7 468.8 L155.5 468.8 L156.5 464.0 L159.9 465.0 L162.2 462.1 L164.5 464.4 L167.9 465.9 L169.8 467.5 L172.1 466.5 L174.6 468.8 L177.5 469.4 L180.4 467.5 L183.2 467.9 L186.1 466.3 L189.0 465.6 L192.8 465.0 L196.6 464.6 L199.5 460.6 L203.3 459.8 L206.2 460.2 L210.0 459.6 L212.9 456.4 L216.7 456.4 L220.5 457.9 L224.4 459.8 L227.2 462.1 L231.1 465.6 L233.9 463.1 L236.8 460.2 L240.6 459.8 L244.5 461.2 L248.3 462.1 L251.2 460.2 L255.0 460.2 L258.8 461.2 L261.7 456.8 L264.6 456.0 L267.4 454.1 L270.3 455.4 L273.2 455.4 L277.0 454.5 L280.8 452.9 L284.7 452.2 L287.5 454.1 L291.4 454.8 L295.2 453.7 L299.0 454.1 L302.8 454.8 L307.6 456.4 L311.5 455.4 L315.3 454.5 L319.1 455.0 L322.9 454.5 L326.8 455.4 L330.6 454.8 L334.4 454.1 L341.1 454.1 L343.0 450.2 L345.9 450.2 L349.7 452.2 L352.6 454.1 L355.5 454.8 L358.3 458.3 L361.2 461.2 L364.3 463.6" fill="none" stroke="#ED7D31" stroke-width="2.3" stroke-linejoin="round" stroke-linecap="butt"/>
<path d="M61.3 501.9 L67.4 501.9 L68.8 492.7 L72.2 486.0 L73.2 484.1 L85.6 484.5 L86.6 486.0 L87.9 504.2 L90.4 502.7 L92.3 501.4 L98.1 500.8 L100.0 498.1 L101.9 492.7 L104.8 492.0 L112.0 492.0 L113.4 495.6 L115.3 504.2 L116.3 507.1 L118.7 507.7 L119.1 511.5 L123.9 511.5 L124.9 509.0 L127.7 506.1 L130.6 503.3 L133.5 502.7 L135.4 505.2 L137.3 508.4 L146.5 508.4 L147.8 505.2 L150.7 504.2 L156.5 504.2 L159.3 503.3 L162.2 504.2 L163.7 507.7 L166.0 508.1 L167.9 508.4 L169.8 505.2 L171.8 502.3 L174.6 499.4 L177.5 498.1 L179.4 499.4 L181.3 500.4 L182.3 492.4 L186.7 492.4 L187.5 495.6 L195.7 495.0 L196.3 500.4 L198.6 501.4 L203.3 501.4 L205.3 498.5 L207.2 495.6 L210.0 495.6 L213.8 493.7 L218.6 493.3 L223.0 494.7 L224.9 498.5 L226.3 503.3 L236.8 503.6 L238.7 507.1 L240.6 510.0 L242.5 511.9 L244.5 508.4 L247.3 507.7 L249.2 510.0 L251.7 510.9 L254.0 508.4 L256.9 509.6 L258.8 508.1 L260.7 505.2 L263.6 505.2 L266.5 507.1 L269.3 508.4 L273.2 507.7 L278.9 507.3 L280.4 505.2 L285.0 505.2 L286.6 508.4 L290.4 510.0 L296.1 509.6 L298.1 512.8 L300.9 515.7 L303.8 515.1 L309.5 514.8 L311.5 513.8 L314.9 514.2 L315.7 516.7 L318.1 514.8 L324.5 514.8 L325.8 517.6 L334.4 518.0 L341.1 517.6 L343.0 516.7 L357.4 516.7 L360.3 518.6 L362.7 521.1 L364.3 523.4" fill="none" stroke="#FF0000" stroke-width="2.1" stroke-linejoin="round" stroke-linecap="butt"/>
<line x1="61.30" y1="561.30" x2="61.30" y2="564.30" stroke="#DFDFDF" stroke-width="1"/>
<line x1="77.43" y1="561.30" x2="77.43" y2="564.30" stroke="#DFDFDF" stroke-width="1"/>
<line x1="93.56" y1="561.30" x2="93.56" y2="564.30" stroke="#DFDFDF" stroke-width="1"/>
<line x1="109.69" y1="561.30" x2="109.69" y2="564.30" stroke="#DFDFDF" stroke-width="1"/>
<line x1="125.82" y1="561.30" x2="125.82" y2="564.30" stroke="#DFDFDF" stroke-width="1"/>
<line x1="141.95" y1="561.30" x2="141.95" y2="564.30" stroke="#DFDFDF" stroke-width="1"/>
<line x1="158.08" y1="561.30" x2="158.08" y2="564.30" stroke="#DFDFDF" stroke-width="1"/>
<line x1="174.21" y1="561.30" x2="174.21" y2="564.30" stroke="#DFDFDF" stroke-width="1"/>
<line x1="190.34" y1="561.30" x2="190.34" y2="564.30" stroke="#DFDFDF" stroke-width="1"/>
<line x1="206.47" y1="561.30" x2="206.47" y2="564.30" stroke="#DFDFDF" stroke-width="1"/>
<line x1="222.60" y1="561.30" x2="222.60" y2="564.30" stroke="#DFDFDF" stroke-width="1"/>
<line x1="238.73" y1="561.30" x2="238.73" y2="564.30" stroke="#DFDFDF" stroke-width="1"/>
<line x1="254.86" y1="561.30" x2="254.86" y2="564.30" stroke="#DFDFDF" stroke-width="1"/>
<line x1="270.99" y1="561.30" x2="270.99" y2="564.30" stroke="#DFDFDF" stroke-width="1"/>
<line x1="287.12" y1="561.30" x2="287.12" y2="564.30" stroke="#DFDFDF" stroke-width="1"/>
<line x1="303.25" y1="561.30" x2="303.25" y2="564.30" stroke="#DFDFDF" stroke-width="1"/>
<line x1="319.38" y1="561.30" x2="319.38" y2="564.30" stroke="#DFDFDF" stroke-width="1"/>
<line x1="335.51" y1="561.30" x2="335.51" y2="564.30" stroke="#DFDFDF" stroke-width="1"/>
<line x1="351.64" y1="561.30" x2="351.64" y2="564.30" stroke="#DFDFDF" stroke-width="1"/>
<text x="53.20" y="438.80" font-size="10.7" text-anchor="end" class="ax">21000</text>
<text x="53.20" y="459.97" font-size="10.7" text-anchor="end" class="ax">18000</text>
<text x="53.20" y="481.13" font-size="10.7" text-anchor="end" class="ax">15000</text>
<text x="53.20" y="502.30" font-size="10.7" text-anchor="end" class="ax">12000</text>
<text x="53.20" y="523.47" font-size="10.7" text-anchor="end" class="ax">9000</text>
<text x="53.20" y="544.63" font-size="10.7" text-anchor="end" class="ax">6000</text>
<text x="53.20" y="565.80" font-size="10.7" text-anchor="end" class="ax">3000</text>
<text x="373.00" y="438.80" font-size="10.7" text-anchor="start" class="ax">14000</text>
<text x="373.00" y="456.94" font-size="10.7" text-anchor="start" class="ax">12000</text>
<text x="373.00" y="475.09" font-size="10.7" text-anchor="start" class="ax">10000</text>
<text x="373.00" y="493.23" font-size="10.7" text-anchor="start" class="ax">8000</text>
<text x="373.00" y="511.37" font-size="10.7" text-anchor="start" class="ax">6000</text>
<text x="373.00" y="529.51" font-size="10.7" text-anchor="start" class="ax">4000</text>
<text x="373.00" y="547.66" font-size="10.7" text-anchor="start" class="ax">2000</text>
<text x="373.00" y="565.80" font-size="10.7" text-anchor="start" class="ax">0</text>
<text x="64.60" y="568.00" font-size="9.2" text-anchor="end" class="ax" transform="rotate(-90 64.60 568.00)">2023/08</text>
<text x="80.73" y="568.00" font-size="9.2" text-anchor="end" class="ax" transform="rotate(-90 80.73 568.00)">2023/09</text>
<text x="96.86" y="568.00" font-size="9.2" text-anchor="end" class="ax" transform="rotate(-90 96.86 568.00)">2023/10</text>
<text x="112.99" y="568.00" font-size="9.2" text-anchor="end" class="ax" transform="rotate(-90 112.99 568.00)">2023/11</text>
<text x="129.12" y="568.00" font-size="9.2" text-anchor="end" class="ax" transform="rotate(-90 129.12 568.00)">2023/12</text>
<text x="145.25" y="568.00" font-size="9.2" text-anchor="end" class="ax" transform="rotate(-90 145.25 568.00)">2024/01</text>
<text x="161.38" y="568.00" font-size="9.2" text-anchor="end" class="ax" transform="rotate(-90 161.38 568.00)">2024/02</text>
<text x="177.51" y="568.00" font-size="9.2" text-anchor="end" class="ax" transform="rotate(-90 177.51 568.00)">2024/03</text>
<text x="193.64" y="568.00" font-size="9.2" text-anchor="end" class="ax" transform="rotate(-90 193.64 568.00)">2024/04</text>
<text x="209.77" y="568.00" font-size="9.2" text-anchor="end" class="ax" transform="rotate(-90 209.77 568.00)">2024/05</text>
<text x="225.90" y="568.00" font-size="9.2" text-anchor="end" class="ax" transform="rotate(-90 225.90 568.00)">2024/06</text>
<text x="242.03" y="568.00" font-size="9.2" text-anchor="end" class="ax" transform="rotate(-90 242.03 568.00)">2024/07</text>
<text x="258.16" y="568.00" font-size="9.2" text-anchor="end" class="ax" transform="rotate(-90 258.16 568.00)">2024/08</text>
<text x="274.29" y="568.00" font-size="9.2" text-anchor="end" class="ax" transform="rotate(-90 274.29 568.00)">2024/09</text>
<text x="290.42" y="568.00" font-size="9.2" text-anchor="end" class="ax" transform="rotate(-90 290.42 568.00)">2024/10</text>
<text x="306.55" y="568.00" font-size="9.2" text-anchor="end" class="ax" transform="rotate(-90 306.55 568.00)">2024/11</text>
<text x="322.68" y="568.00" font-size="9.2" text-anchor="end" class="ax" transform="rotate(-90 322.68 568.00)">2024/12</text>
<text x="338.81" y="568.00" font-size="9.2" text-anchor="end" class="ax" transform="rotate(-90 338.81 568.00)">2025/01</text>
<text x="354.94" y="568.00" font-size="9.2" text-anchor="end" class="ax" transform="rotate(-90 354.94 568.00)">2025/02</text>
<text x="146.10" y="422.00" font-size="10.43" text-anchor="start" class="ct" textLength="116.5" lengthAdjust="spacing">聚合MDI价格价差曲线</text>
<rect x="34.80" y="613.35" width="21.80" height="6.50" fill="#0070C0" stroke="#000" stroke-width="1"/>
<text x="60.10" y="619.80" font-size="9.0" text-anchor="start" class="lg" textLength="255.1" lengthAdjust="spacing">(右轴)聚合MDI价差 (聚合MDI-1.5*煤炭-0.63*纯苯) 元/吨</text>
<rect x="34.80" y="624.95" width="21.80" height="6.50" fill="#A6A6A6" stroke="#000" stroke-width="1"/>
<text x="60.10" y="631.40" font-size="9.0" text-anchor="start" class="lg" textLength="324.3" lengthAdjust="spacing">(右轴)聚合MDI价差 (聚合MDI-0.775*苯胺-甲醛*0.362-液氯*0.608) 元/吨</text>
<line x1="34.50" y1="639.90" x2="57.50" y2="639.90" stroke="#ED7D31" stroke-width="2.4" stroke-linecap="round"/>
<text x="60.10" y="643.10" font-size="9.0" text-anchor="start" class="lg" textLength="88.1" lengthAdjust="spacing">聚合MDI:华东 元/吨</text>
<line x1="34.50" y1="651.70" x2="57.50" y2="651.70" stroke="#FF0000" stroke-width="2.4" stroke-linecap="round"/>
<text x="60.10" y="654.90" font-size="9.0" text-anchor="start" class="lg" textLength="68.1" lengthAdjust="spacing">苯胺价格 元/吨</text>
<line x1="485.50" y1="433.40" x2="829.00" y2="433.40" stroke="#DFDFDF" stroke-width="1.5"/>
<line x1="485.50" y1="462.77" x2="829.00" y2="462.77" stroke="#DFDFDF" stroke-width="1.5"/>
<line x1="485.50" y1="492.13" x2="829.00" y2="492.13" stroke="#DFDFDF" stroke-width="1.5"/>
<line x1="485.50" y1="521.50" x2="829.00" y2="521.50" stroke="#DFDFDF" stroke-width="1.5"/>
<line x1="485.50" y1="550.87" x2="829.00" y2="550.87" stroke="#DFDFDF" stroke-width="1.5"/>
<line x1="485.50" y1="580.23" x2="829.00" y2="580.23" stroke="#DFDFDF" stroke-width="1.5"/>
<line x1="485.50" y1="609.60" x2="829.00" y2="609.60" stroke="#DFDFDF" stroke-width="1.5"/>
<line x1="485.50" y1="609.90" x2="829.00" y2="609.90" stroke="#DFDFDF" stroke-width="1.2"/>
<path d="M485.2 525.2 L486.9 536.7 L489.4 525.2 L497.7 525.9 L499.8 496.0 L500.9 493.9 L502.3 463.0 L504.0 468.9 L505.1 477.2 L506.5 478.2 L508.2 516.9 L509.7 527.3 L510.9 533.6 L511.7 526.3 L513.0 533.6 L515.1 534.0 L517.2 522.7 L518.6 525.9 L527.0 525.9 L528.4 533.6 L529.7 536.7 L531.8 536.7 L532.6 523.1 L534.3 533.6 L536.0 533.6 L537.4 523.1 L539.5 507.5 L544.3 507.5 L546.4 525.2 L548.5 526.3 L550.0 523.1 L552.0 532.5 L554.1 536.7 L562.5 537.1 L563.1 534.6 L563.9 550.3 L565.2 537.8 L567.3 543.0 L568.7 544.0 L570.8 552.4 L573.5 560.3 L576.5 560.7 L579.2 563.9 L581.3 566.6 L582.3 566.6 L584.4 547.2 L586.5 545.7 L588.6 545.7 L590.3 551.3 L592.3 552.0 L594.4 556.6 L596.9 560.7 L599.0 567.0 L600.7 568.7 L602.8 560.7 L604.2 558.6 L605.7 561.8 L607.4 557.6 L609.0 556.6 L611.6 540.9 L613.2 550.3 L615.3 543.6 L617.4 554.5 L618.9 556.1 L621.0 563.2 L622.4 561.8 L624.1 555.5 L625.8 554.5 L627.8 562.8 L630.3 569.1 L635.6 569.5 L636.6 563.2 L638.7 563.2 L640.4 568.7 L642.9 569.1 L643.9 574.9 L653.7 574.9 L655.0 571.2 L656.7 563.9 L658.8 557.6 L660.8 566.0 L662.9 558.6 L664.4 562.8 L666.5 552.4 L667.9 558.6 L670.7 549.2 L673.4 560.7 L674.8 560.3 L677.6 552.4 L679.6 548.6 L682.1 548.6 L685.3 539.8 L687.4 546.1 L688.8 551.3 L690.9 551.3 L692.6 547.2 L695.1 539.4 L697.8 539.4 L699.3 537.8 L701.4 545.1 L702.6 548.6 L704.7 549.2 L706.8 552.0 L708.9 554.5 L711.8 554.9 L713.9 557.6 L716.0 553.4 L718.7 545.5 L720.2 546.1 L721.4 549.9 L722.9 548.6 L725.0 548.6 L727.0 553.4 L729.8 560.3 L731.8 557.6 L733.9 557.6 L736.0 564.5 L738.1 569.1 L739.6 574.9 L743.1 574.9 L745.2 566.6 L747.9 563.9 L750.0 569.1 L752.7 577.4 L754.2 578.5 L756.3 574.9 L757.7 580.6 L759.4 581.2 L760.5 578.1 L762.5 580.6 L764.6 584.1 L768.8 584.1 L769.8 585.8 L771.9 578.5 L774.0 575.8 L775.7 578.5 L777.2 583.7 L779.2 585.4 L780.7 586.8 L788.2 586.8 L789.1 584.7 L790.3 586.8 L792.8 587.9 L794.5 588.9 L797.0 590.0 L798.7 592.7 L809.1 592.7 L809.9 590.0 L817.9 590.0 L819.5 592.7 L825.2 592.7 L826.2 590.0 L827.9 590.0 L828.9 584.7 L828.9 609.1 L485.2 609.1 Z" fill="#A6A6A6"/>
<line x1="486.30" y1="609.60" x2="486.30" y2="612.60" stroke="#DFDFDF" stroke-width="1"/>
<line x1="542.70" y1="609.60" x2="542.70" y2="612.60" stroke="#DFDFDF" stroke-width="1"/>
<line x1="599.10" y1="609.60" x2="599.10" y2="612.60" stroke="#DFDFDF" stroke-width="1"/>
<line x1="655.50" y1="609.60" x2="655.50" y2="612.60" stroke="#DFDFDF" stroke-width="1"/>
<line x1="711.90" y1="609.60" x2="711.90" y2="612.60" stroke="#DFDFDF" stroke-width="1"/>
<line x1="768.30" y1="609.60" x2="768.30" y2="612.60" stroke="#DFDFDF" stroke-width="1"/>
<line x1="824.70" y1="609.60" x2="824.70" y2="612.60" stroke="#DFDFDF" stroke-width="1"/>
<text x="478.00" y="437.90" font-size="10.7" text-anchor="end" class="ax">130</text>
<text x="478.00" y="467.27" font-size="10.7" text-anchor="end" class="ax">120</text>
<text x="478.00" y="496.63" font-size="10.7" text-anchor="end" class="ax">110</text>
<text x="478.00" y="526.00" font-size="10.7" text-anchor="end" class="ax">100</text>
<text x="478.00" y="555.37" font-size="10.7" text-anchor="end" class="ax">90</text>
<text x="478.00" y="584.73" font-size="10.7" text-anchor="end" class="ax">80</text>
<text x="478.00" y="614.10" font-size="10.7" text-anchor="end" class="ax">70</text>
<text x="489.30" y="624.70" font-size="8.9" text-anchor="end" class="ax" transform="rotate(-45 489.30 624.70)">2019/02</text>
<text x="545.70" y="624.70" font-size="8.9" text-anchor="end" class="ax" transform="rotate(-45 545.70 624.70)">2020/02</text>
<text x="602.10" y="624.70" font-size="8.9" text-anchor="end" class="ax" transform="rotate(-45 602.10 624.70)">2021/02</text>
<text x="658.50" y="624.70" font-size="8.9" text-anchor="end" class="ax" transform="rotate(-45 658.50 624.70)">2022/02</text>
<text x="714.90" y="624.70" font-size="8.9" text-anchor="end" class="ax" transform="rotate(-45 714.90 624.70)">2023/02</text>
<text x="771.30" y="624.70" font-size="8.9" text-anchor="end" class="ax" transform="rotate(-45 771.30 624.70)">2024/02</text>
<text x="827.70" y="624.70" font-size="8.9" text-anchor="end" class="ax" transform="rotate(-45 827.70 624.70)">2025/02</text>
<text x="553.00" y="424.50" font-size="10.08" text-anchor="start" class="ct" textLength="183.8" lengthAdjust="spacing">聚合MDI中国周度企业库存（千吨）</text>
<line x1="70.30" y1="776.10" x2="365.60" y2="776.10" stroke="#DFDFDF" stroke-width="1.5"/>
<line x1="70.30" y1="793.86" x2="365.60" y2="793.86" stroke="#DFDFDF" stroke-width="1.5"/>
<line x1="70.30" y1="811.61" x2="365.60" y2="811.61" stroke="#DFDFDF" stroke-width="1.5"/>
<line x1="70.30" y1="829.37" x2="365.60" y2="829.37" stroke="#DFDFDF" stroke-width="1.5"/>
<line x1="70.30" y1="847.12" x2="365.60" y2="847.12" stroke="#DFDFDF" stroke-width="1.5"/>
<line x1="70.30" y1="864.88" x2="365.60" y2="864.88" stroke="#DFDFDF" stroke-width="1.5"/>
<line x1="70.30" y1="882.63" x2="365.60" y2="882.63" stroke="#DFDFDF" stroke-width="1.5"/>
<line x1="70.30" y1="900.39" x2="365.60" y2="900.39" stroke="#DFDFDF" stroke-width="1.5"/>
<line x1="70.30" y1="918.14" x2="365.60" y2="918.14" stroke="#DFDFDF" stroke-width="1.5"/>
<line x1="70.30" y1="935.90" x2="365.60" y2="935.90" stroke="#DFDFDF" stroke-width="1.5"/>
<line x1="70.30" y1="936.20" x2="365.60" y2="936.20" stroke="#DFDFDF" stroke-width="1.2"/>
<path d="M70.5 872.2 L71.9 864.5 L73.4 855.0 L75.3 848.3 L76.8 855.0 L78.8 858.4 L81.1 858.8 L83.0 857.8 L84.9 868.4 L86.8 875.1 L88.7 877.6 L91.6 877.9 L94.1 877.9 L96.4 881.8 L98.3 885.2 L99.8 891.3 L101.2 896.1 L102.1 893.2 L103.6 900.9 L105.6 904.7 L107.5 913.3 L109.4 915.3 L110.7 902.8 L111.3 894.2 L112.6 895.2 L113.6 899.9 L115.9 899.9 L117.4 900.9 L119.3 898.0 L121.3 896.1 L123.2 896.7 L125.1 892.3 L127.0 889.4 L128.5 893.2 L130.4 890.4 L132.7 888.5 L135.0 884.6 L136.9 883.7 L138.5 878.9 L140.4 881.4 L142.3 884.6 L144.2 886.5 L146.1 891.3 L148.1 894.8 L150.0 894.2 L151.9 890.4 L154.2 886.0 L156.7 887.1 L159.5 887.1 L162.4 886.5 L164.3 881.8 L166.8 881.8 L169.1 884.6 L171.0 889.4 L172.9 892.3 L174.8 887.5 L177.7 887.5 L179.6 884.6 L181.5 877.9 L183.5 871.2 L185.4 864.5 L187.9 855.9 L190.2 857.8 L192.1 860.7 L194.0 859.2 L196.3 866.5 L198.2 862.6 L200.1 859.2 L202.6 858.8 L204.5 852.1 L207.0 851.5 L208.9 855.0 L210.8 866.5 L212.7 868.4 L214.1 866.5 L215.0 868.4 L216.9 870.7 L219.8 872.6 L222.3 877.0 L224.6 881.8 L226.9 884.6 L229.4 888.5 L238.9 888.5 L240.8 885.6 L242.2 884.1 L243.3 875.6 L245.6 875.1 L248.5 873.7 L250.4 876.0 L251.8 879.8 L254.2 877.0 L256.2 875.6 L259.0 875.1 L261.9 872.2 L263.8 869.3 L265.7 861.7 L267.6 862.6 L269.6 866.5 L281.0 866.5 L282.4 860.7 L283.9 856.9 L285.8 859.8 L287.7 861.7 L290.6 864.5 L292.5 863.6 L293.9 855.9 L295.8 850.2 L298.3 848.3 L301.1 846.4 L303.1 847.3 L305.0 849.2 L307.3 850.2 L308.8 856.9 L310.7 858.4 L312.6 860.3 L314.2 858.8 L315.5 851.1 L317.4 847.3 L318.4 828.2 L319.9 812.9 L321.2 801.4 L323.1 800.4 L325.1 788.9 L327.0 792.8 L332.7 793.3 L333.7 798.5 L335.6 805.2 L337.5 802.3 L346.1 802.3 L347.5 795.2 L349.9 794.7 L351.3 803.3 L353.2 805.2 L354.7 822.4 L356.6 830.1 L358.2 845.4 L359.5 858.8 L361.4 875.1 L362.8 864.5 L364.3 855.0 L365.6 855.0 L365.6 935.4 L70.5 935.4 Z" fill="#A6A6A6"/>
<path d="M70.5 935.4 L70.5 872.2 L71.9 864.5 L73.4 855.0 L75.3 848.3 L76.8 855.0 L78.8 858.4 L81.1 858.8 L83.0 857.8 L84.9 868.4 L86.8 875.1 L88.7 877.6 L91.6 877.9 L94.1 877.9 L96.4 881.8 L98.3 885.2 L99.8 891.3 L101.2 896.1 L102.1 893.2 L103.6 900.9 L105.6 904.7 L107.5 913.3 L109.4 915.3 L110.7 902.8 L111.3 894.2 L112.6 895.2 L113.6 899.9 L115.9 899.9 L117.4 900.9 L119.3 898.0 L121.3 896.1 L123.2 896.7 L125.1 892.3 L127.0 889.4 L128.5 893.2 L130.4 890.4 L132.7 888.5 L135.0 884.6 L136.9 883.7 L138.5 878.9 L140.4 881.4 L142.3 884.6 L144.2 886.5 L146.1 891.3 L148.1 894.8 L150.0 894.2 L151.9 890.4 L154.2 886.0 L156.7 887.1 L159.5 887.1 L162.4 886.5 L164.3 881.8 L166.8 881.8 L169.1 884.6 L171.0 889.4 L172.9 892.3 L174.8 887.5 L177.7 887.5 L179.6 884.6 L181.5 877.9 L183.5 871.2 L185.4 864.5 L187.9 855.9 L190.2 857.8 L192.1 860.7 L194.0 859.2 L196.3 866.5 L198.2 862.6 L200.1 859.2 L202.6 858.8 L204.5 852.1 L207.0 851.5 L208.9 855.0 L210.8 866.5 L212.7 868.4 L214.1 866.5 L215.0 868.4 L216.9 870.7 L219.8 872.6 L222.3 877.0 L224.6 881.8 L226.9 884.6 L229.4 888.5 L238.9 888.5 L240.8 885.6 L242.2 884.1 L243.3 875.6 L245.6 875.1 L248.5 873.7 L250.4 876.0 L251.8 879.8 L254.2 877.0 L256.2 875.6 L259.0 875.1 L261.9 872.2 L263.8 869.3 L265.7 861.7 L267.6 862.6 L269.6 866.5 L281.0 866.5 L282.4 860.7 L283.9 856.9 L285.8 859.8 L287.7 861.7 L290.6 864.5 L292.5 863.6 L293.9 855.9 L295.8 850.2 L298.3 848.3 L301.1 846.4 L303.1 847.3 L305.0 849.2 L307.3 850.2 L308.8 856.9 L310.7 858.4 L312.6 860.3 L314.2 858.8 L315.5 851.1 L317.4 847.3 L318.4 828.2 L319.9 812.9 L321.2 801.4 L323.1 800.4 L325.1 788.9 L327.0 792.8 L332.7 793.3 L333.7 798.5 L335.6 805.2 L337.5 802.3 L346.1 802.3 L347.5 795.2 L349.9 794.7 L351.3 803.3 L353.2 805.2 L354.7 822.4 L356.6 830.1 L358.2 845.4 L359.5 858.8 L361.4 875.1 L362.8 864.5 L364.3 855.0 L365.6 855.0 L365.6 935.4" fill="none" stroke="#000" stroke-width="1.3" stroke-linejoin="round"/>
<path d="M70.5 841.2 L74.4 840.8 L75.7 837.7 L76.3 830.7 L83.0 830.5 L84.5 822.8 L101.2 822.8 L102.5 826.6 L108.8 826.6 L110.2 824.7 L124.1 824.7 L127.0 826.6 L128.9 831.0 L129.9 833.5 L136.6 833.9 L138.1 838.7 L145.8 838.7 L147.1 835.8 L153.8 835.4 L155.7 833.5 L188.2 833.5 L190.2 831.6 L193.0 830.5 L214.1 830.5 L215.0 830.5 L218.8 828.2 L221.7 826.6 L223.6 822.8 L245.6 822.8 L247.5 824.7 L250.4 825.3 L252.3 828.2 L255.2 829.7 L260.0 830.5 L262.9 833.5 L265.7 835.4 L281.0 835.4 L283.9 831.0 L292.5 831.0 L294.4 833.9 L296.4 837.4 L301.1 837.4 L305.0 835.4 L307.8 833.5 L310.7 833.5 L312.6 831.0 L318.4 830.5 L322.2 829.7 L325.1 826.6 L327.0 823.4 L335.6 823.4 L337.1 826.6 L345.2 826.6 L347.1 828.2 L352.8 828.5 L354.7 832.0 L358.2 832.4 L360.5 831.0 L365.6 832.0" fill="none" stroke="#00B0F0" stroke-width="2.5" stroke-linejoin="round" stroke-linecap="butt"/>
<path d="M70.5 859.8 L71.9 855.0 L73.4 847.3 L74.9 841.9 L78.2 843.1 L83.0 842.7 L84.9 847.3 L87.2 850.2 L93.5 850.8 L95.4 853.4 L97.9 855.3 L100.2 862.6 L103.1 867.4 L105.0 871.2 L106.9 876.4 L109.4 876.4 L110.7 863.6 L112.6 863.6 L113.6 866.5 L117.4 866.5 L120.3 864.2 L124.1 864.2 L126.0 863.0 L128.9 866.5 L131.8 866.1 L134.7 863.6 L138.5 863.6 L141.4 865.5 L144.2 868.4 L146.5 870.7 L149.6 870.7 L151.9 868.0 L154.8 864.9 L161.5 864.9 L164.3 861.7 L167.2 862.2 L169.5 864.5 L171.4 868.0 L173.9 868.0 L174.8 864.9 L178.7 864.5 L181.0 859.8 L183.5 853.1 L185.4 849.2 L187.9 843.5 L194.0 843.5 L196.3 848.3 L198.8 843.5 L202.0 843.1 L203.9 838.7 L207.4 838.7 L209.3 840.6 L211.2 848.3 L213.1 849.2 L215.0 849.6 L218.8 850.2 L222.7 852.7 L226.5 855.0 L229.4 857.8 L238.0 857.8 L240.3 855.3 L242.2 853.4 L243.3 848.8 L249.1 848.8 L251.4 852.1 L253.3 854.0 L260.0 854.0 L262.9 853.1 L265.2 848.8 L267.1 849.2 L269.0 852.1 L281.0 852.1 L282.4 845.4 L284.3 844.4 L287.7 845.8 L290.6 847.7 L293.1 843.5 L296.4 841.6 L301.1 840.0 L305.3 840.8 L307.8 844.4 L310.7 845.0 L313.6 843.5 L314.9 838.7 L316.8 835.8 L318.4 822.4 L319.3 813.8 L321.8 804.2 L324.1 803.3 L324.5 793.7 L332.7 793.7 L334.6 799.5 L336.0 802.3 L346.1 802.3 L347.1 799.5 L349.9 799.5 L351.3 804.2 L352.8 805.2 L354.4 816.7 L355.7 823.4 L357.6 828.2 L358.9 841.6 L360.9 849.2 L362.0 854.0 L363.3 845.4 L364.7 841.9 L365.6 841.6" fill="none" stroke="#FF0000" stroke-width="2.7" stroke-linejoin="round" stroke-linecap="butt"/>
<line x1="70.50" y1="935.90" x2="70.50" y2="938.90" stroke="#DFDFDF" stroke-width="1"/>
<line x1="86.16" y1="935.90" x2="86.16" y2="938.90" stroke="#DFDFDF" stroke-width="1"/>
<line x1="101.82" y1="935.90" x2="101.82" y2="938.90" stroke="#DFDFDF" stroke-width="1"/>
<line x1="117.48" y1="935.90" x2="117.48" y2="938.90" stroke="#DFDFDF" stroke-width="1"/>
<line x1="133.14" y1="935.90" x2="133.14" y2="938.90" stroke="#DFDFDF" stroke-width="1"/>
<line x1="148.80" y1="935.90" x2="148.80" y2="938.90" stroke="#DFDFDF" stroke-width="1"/>
<line x1="164.46" y1="935.90" x2="164.46" y2="938.90" stroke="#DFDFDF" stroke-width="1"/>
<line x1="180.12" y1="935.90" x2="180.12" y2="938.90" stroke="#DFDFDF" stroke-width="1"/>
<line x1="195.78" y1="935.90" x2="195.78" y2="938.90" stroke="#DFDFDF" stroke-width="1"/>
<line x1="211.44" y1="935.90" x2="211.44" y2="938.90" stroke="#DFDFDF" stroke-width="1"/>
<line x1="227.10" y1="935.90" x2="227.10" y2="938.90" stroke="#DFDFDF" stroke-width="1"/>
<line x1="242.76" y1="935.90" x2="242.76" y2="938.90" stroke="#DFDFDF" stroke-width="1"/>
<line x1="258.42" y1="935.90" x2="258.42" y2="938.90" stroke="#DFDFDF" stroke-width="1"/>
<line x1="274.08" y1="935.90" x2="274.08" y2="938.90" stroke="#DFDFDF" stroke-width="1"/>
<line x1="289.74" y1="935.90" x2="289.74" y2="938.90" stroke="#DFDFDF" stroke-width="1"/>
<line x1="305.40" y1="935.90" x2="305.40" y2="938.90" stroke="#DFDFDF" stroke-width="1"/>
<line x1="321.06" y1="935.90" x2="321.06" y2="938.90" stroke="#DFDFDF" stroke-width="1"/>
<line x1="336.72" y1="935.90" x2="336.72" y2="938.90" stroke="#DFDFDF" stroke-width="1"/>
<line x1="352.38" y1="935.90" x2="352.38" y2="938.90" stroke="#DFDFDF" stroke-width="1"/>
<text x="62.10" y="780.40" font-size="10.7" text-anchor="end" class="ax">8,500</text>
<text x="62.10" y="798.16" font-size="10.7" text-anchor="end" class="ax">8,000</text>
<text x="62.10" y="815.91" font-size="10.7" text-anchor="end" class="ax">7,500</text>
<text x="62.10" y="833.67" font-size="10.7" text-anchor="end" class="ax">7,000</text>
<text x="62.10" y="851.42" font-size="10.7" text-anchor="end" class="ax">6,500</text>
<text x="62.10" y="869.18" font-size="10.7" text-anchor="end" class="ax">6,000</text>
<text x="62.10" y="886.93" font-size="10.7" text-anchor="end" class="ax">5,500</text>
<text x="62.10" y="904.69" font-size="10.7" text-anchor="end" class="ax">5,000</text>
<text x="62.10" y="922.44" font-size="10.7" text-anchor="end" class="ax">4,500</text>
<text x="62.10" y="940.20" font-size="10.7" text-anchor="end" class="ax">4,000</text>
<text x="373.90" y="780.40" font-size="10.7" text-anchor="start" class="ax">3,000</text>
<text x="373.90" y="807.03" font-size="10.7" text-anchor="start" class="ax">2,500</text>
<text x="373.90" y="833.67" font-size="10.7" text-anchor="start" class="ax">2,000</text>
<text x="373.90" y="860.30" font-size="10.7" text-anchor="start" class="ax">1,500</text>
<text x="373.90" y="886.93" font-size="10.7" text-anchor="start" class="ax">1,000</text>
<text x="373.90" y="913.57" font-size="10.7" text-anchor="start" class="ax">500</text>
<text x="373.90" y="940.20" font-size="10.7" text-anchor="start" class="ax">0</text>
<text x="73.80" y="942.30" font-size="9.3" text-anchor="end" class="ax" transform="rotate(-90 73.80 942.30)">2023/08</text>
<text x="89.46" y="942.30" font-size="9.3" text-anchor="end" class="ax" transform="rotate(-90 89.46 942.30)">2023/09</text>
<text x="105.12" y="942.30" font-size="9.3" text-anchor="end" class="ax" transform="rotate(-90 105.12 942.30)">2023/10</text>
<text x="120.78" y="942.30" font-size="9.3" text-anchor="end" class="ax" transform="rotate(-90 120.78 942.30)">2023/11</text>
<text x="136.44" y="942.30" font-size="9.3" text-anchor="end" class="ax" transform="rotate(-90 136.44 942.30)">2023/12</text>
<text x="152.10" y="942.30" font-size="9.3" text-anchor="end" class="ax" transform="rotate(-90 152.10 942.30)">2024/01</text>
<text x="167.76" y="942.30" font-size="9.3" text-anchor="end" class="ax" transform="rotate(-90 167.76 942.30)">2024/02</text>
<text x="183.42" y="942.30" font-size="9.3" text-anchor="end" class="ax" transform="rotate(-90 183.42 942.30)">2024/03</text>
<text x="199.08" y="942.30" font-size="9.3" text-anchor="end" class="ax" transform="rotate(-90 199.08 942.30)">2024/04</text>
<text x="214.74" y="942.30" font-size="9.3" text-anchor="end" class="ax" transform="rotate(-90 214.74 942.30)">2024/05</text>
<text x="230.40" y="942.30" font-size="9.3" text-anchor="end" class="ax" transform="rotate(-90 230.40 942.30)">2024/06</text>
<text x="246.06" y="942.30" font-size="9.3" text-anchor="end" class="ax" transform="rotate(-90 246.06 942.30)">2024/07</text>
<text x="261.72" y="942.30" font-size="9.3" text-anchor="end" class="ax" transform="rotate(-90 261.72 942.30)">2024/08</text>
<text x="277.38" y="942.30" font-size="9.3" text-anchor="end" class="ax" transform="rotate(-90 277.38 942.30)">2024/09</text>
<text x="293.04" y="942.30" font-size="9.3" text-anchor="end" class="ax" transform="rotate(-90 293.04 942.30)">2024/10</text>
<text x="308.70" y="942.30" font-size="9.3" text-anchor="end" class="ax" transform="rotate(-90 308.70 942.30)">2024/11</text>
<text x="324.36" y="942.30" font-size="9.3" text-anchor="end" class="ax" transform="rotate(-90 324.36 942.30)">2024/12</text>
<text x="340.02" y="942.30" font-size="9.3" text-anchor="end" class="ax" transform="rotate(-90 340.02 942.30)">2025/01</text>
<text x="355.68" y="942.30" font-size="9.3" text-anchor="end" class="ax" transform="rotate(-90 355.68 942.30)">2025/02</text>
<text x="155.20" y="769.70" font-size="10.56" text-anchor="start" class="ct" textLength="108.7" lengthAdjust="spacing">丙烯酸价格价差曲线</text>
<rect x="33.90" y="984.50" width="22.20" height="6.60" fill="#A6A6A6" stroke="#1a1a1a" stroke-width="1.3"/>
<text x="61.50" y="991.00" font-size="9.0" text-anchor="start" class="lg" textLength="117.8" lengthAdjust="spacing">（右轴）丙烯酸价差 元/吨</text>
<line x1="181.50" y1="987.80" x2="204.00" y2="987.80" stroke="#00B0F0" stroke-width="2.4" stroke-linecap="round"/>
<text x="207.70" y="991.00" font-size="9.0" text-anchor="start" class="lg" textLength="69.9" lengthAdjust="spacing">丙烯价格 元/吨</text>
<line x1="280.00" y1="987.80" x2="302.50" y2="987.80" stroke="#FF0000" stroke-width="2.4" stroke-linecap="round"/>
<text x="307.00" y="991.00" font-size="9.0" text-anchor="start" class="lg" textLength="78.8" lengthAdjust="spacing">丙烯酸价格 元/吨</text>
<line x1="495.50" y1="781.30" x2="800.80" y2="781.30" stroke="#DFDFDF" stroke-width="1.5"/>
<line x1="495.50" y1="799.65" x2="800.80" y2="799.65" stroke="#DFDFDF" stroke-width="1.5"/>
<line x1="495.50" y1="818.00" x2="800.80" y2="818.00" stroke="#DFDFDF" stroke-width="1.5"/>
<line x1="495.50" y1="836.35" x2="800.80" y2="836.35" stroke="#DFDFDF" stroke-width="1.5"/>
<line x1="495.50" y1="854.70" x2="800.80" y2="854.70" stroke="#DFDFDF" stroke-width="1.5"/>
<line x1="495.50" y1="873.05" x2="800.80" y2="873.05" stroke="#DFDFDF" stroke-width="1.5"/>
<line x1="495.50" y1="891.40" x2="800.80" y2="891.40" stroke="#DFDFDF" stroke-width="1.5"/>
<line x1="495.50" y1="909.75" x2="800.80" y2="909.75" stroke="#DFDFDF" stroke-width="1.5"/>
<line x1="495.50" y1="928.10" x2="800.80" y2="928.10" stroke="#DFDFDF" stroke-width="1.5"/>
<line x1="495.50" y1="928.40" x2="800.80" y2="928.40" stroke="#DFDFDF" stroke-width="1.2"/>
<path d="M495.5 902.8 L497.4 900.9 L498.8 897.1 L499.9 876.0 L501.3 872.2 L503.2 876.0 L505.7 874.1 L507.0 851.1 L508.4 842.5 L510.8 837.7 L513.3 833.9 L514.7 829.1 L516.6 827.8 L519.5 827.8 L521.4 832.0 L524.2 834.9 L526.2 835.8 L528.1 839.3 L530.0 838.7 L531.9 835.4 L534.4 835.4 L536.3 838.7 L537.6 845.4 L539.0 847.3 L540.5 844.4 L542.4 843.9 L544.0 839.7 L546.3 838.1 L550.1 838.1 L553.9 838.7 L557.4 837.4 L559.7 839.7 L561.6 842.5 L564.4 844.4 L567.3 845.4 L570.2 844.4 L572.7 850.2 L575.0 850.2 L576.9 852.1 L578.8 854.0 L580.7 855.9 L582.6 853.4 L585.5 854.6 L589.3 854.6 L592.2 853.1 L594.5 853.1 L596.0 857.8 L597.9 864.5 L599.8 869.3 L601.8 873.1 L603.7 879.8 L605.6 884.6 L607.5 888.5 L609.4 892.3 L611.3 897.1 L613.2 898.0 L615.2 895.2 L617.1 897.5 L620.5 897.5 L621.9 891.3 L623.8 891.0 L626.3 888.5 L628.2 891.3 L630.5 892.3 L632.4 891.3 L634.3 892.9 L636.2 891.7 L639.1 891.7 L640.0 891.3 L641.5 884.6 L643.4 884.1 L645.4 889.4 L647.3 891.7 L649.6 889.4 L652.4 888.5 L654.9 886.5 L657.2 886.0 L659.1 891.3 L664.9 891.3 L666.4 897.1 L668.7 899.0 L670.2 900.9 L671.6 905.7 L673.5 911.4 L678.3 911.4 L679.8 907.6 L681.2 897.1 L683.1 889.4 L685.0 884.6 L687.9 884.1 L689.4 887.5 L691.3 890.4 L693.2 899.0 L694.6 902.8 L695.9 905.7 L697.4 913.3 L700.3 912.0 L703.2 910.5 L706.6 910.1 L708.0 887.5 L708.9 872.2 L710.4 868.4 L713.7 868.0 L714.7 853.1 L717.5 851.5 L721.4 850.8 L722.7 856.9 L724.2 859.8 L726.1 857.8 L729.0 859.2 L731.5 859.8 L733.4 864.5 L735.7 869.3 L737.6 873.1 L740.5 874.1 L742.4 869.3 L743.7 860.7 L744.9 853.4 L747.2 853.1 L748.7 857.8 L751.0 858.8 L752.9 869.3 L754.8 871.2 L756.8 877.9 L758.7 884.6 L762.5 884.6 L764.0 879.8 L767.3 879.5 L768.6 874.1 L770.2 873.1 L776.9 873.1 L777.8 866.5 L779.4 854.0 L781.3 848.3 L783.6 843.5 L785.5 835.8 L787.0 831.0 L788.9 820.5 L791.2 812.9 L793.1 803.3 L795.4 798.5 L797.3 793.7 L798.9 799.5 L800.8 803.3 L800.8 927.6 L495.5 927.6 Z" fill="#A6A6A6"/>
<path d="M495.5 927.6 L495.5 902.8 L497.4 900.9 L498.8 897.1 L499.9 876.0 L501.3 872.2 L503.2 876.0 L505.7 874.1 L507.0 851.1 L508.4 842.5 L510.8 837.7 L513.3 833.9 L514.7 829.1 L516.6 827.8 L519.5 827.8 L521.4 832.0 L524.2 834.9 L526.2 835.8 L528.1 839.3 L530.0 838.7 L531.9 835.4 L534.4 835.4 L536.3 838.7 L537.6 845.4 L539.0 847.3 L540.5 844.4 L542.4 843.9 L544.0 839.7 L546.3 838.1 L550.1 838.1 L553.9 838.7 L557.4 837.4 L559.7 839.7 L561.6 842.5 L564.4 844.4 L567.3 845.4 L570.2 844.4 L572.7 850.2 L575.0 850.2 L576.9 852.1 L578.8 854.0 L580.7 855.9 L582.6 853.4 L585.5 854.6 L589.3 854.6 L592.2 853.1 L594.5 853.1 L596.0 857.8 L597.9 864.5 L599.8 869.3 L601.8 873.1 L603.7 879.8 L605.6 884.6 L607.5 888.5 L609.4 892.3 L611.3 897.1 L613.2 898.0 L615.2 895.2 L617.1 897.5 L620.5 897.5 L621.9 891.3 L623.8 891.0 L626.3 888.5 L628.2 891.3 L630.5 892.3 L632.4 891.3 L634.3 892.9 L636.2 891.7 L639.1 891.7 L640.0 891.3 L641.5 884.6 L643.4 884.1 L645.4 889.4 L647.3 891.7 L649.6 889.4 L652.4 888.5 L654.9 886.5 L657.2 886.0 L659.1 891.3 L664.9 891.3 L666.4 897.1 L668.7 899.0 L670.2 900.9 L671.6 905.7 L673.5 911.4 L678.3 911.4 L679.8 907.6 L681.2 897.1 L683.1 889.4 L685.0 884.6 L687.9 884.1 L689.4 887.5 L691.3 890.4 L693.2 899.0 L694.6 902.8 L695.9 905.7 L697.4 913.3 L700.3 912.0 L703.2 910.5 L706.6 910.1 L708.0 887.5 L708.9 872.2 L710.4 868.4 L713.7 868.0 L714.7 853.1 L717.5 851.5 L721.4 850.8 L722.7 856.9 L724.2 859.8 L726.1 857.8 L729.0 859.2 L731.5 859.8 L733.4 864.5 L735.7 869.3 L737.6 873.1 L740.5 874.1 L742.4 869.3 L743.7 860.7 L744.9 853.4 L747.2 853.1 L748.7 857.8 L751.0 858.8 L752.9 869.3 L754.8 871.2 L756.8 877.9 L758.7 884.6 L762.5 884.6 L764.0 879.8 L767.3 879.5 L768.6 874.1 L770.2 873.1 L776.9 873.1 L777.8 866.5 L779.4 854.0 L781.3 848.3 L783.6 843.5 L785.5 835.8 L787.0 831.0 L788.9 820.5 L791.2 812.9 L793.1 803.3 L795.4 798.5 L797.3 793.7 L798.9 799.5 L800.8 803.3 L800.8 927.6" fill="none" stroke="#000" stroke-width="1.3" stroke-linejoin="round"/>
<path d="M495.5 877.0 L496.9 874.5 L498.4 872.2 L499.9 848.8 L501.8 848.3 L503.2 851.1 L505.1 851.1 L506.4 833.0 L508.4 829.1 L511.8 828.2 L513.7 825.9 L521.0 825.9 L522.3 830.1 L525.2 832.0 L527.1 836.8 L528.6 837.4 L530.0 840.0 L532.9 840.6 L535.2 842.5 L540.5 843.1 L542.8 838.7 L547.2 837.7 L559.7 838.1 L561.6 840.0 L565.4 841.6 L569.2 843.1 L572.1 843.9 L573.1 847.3 L576.9 848.3 L579.8 849.6 L581.7 847.7 L589.3 847.7 L592.2 844.4 L594.5 845.4 L596.0 847.7 L597.9 852.7 L599.8 856.5 L602.1 860.7 L604.1 864.5 L606.5 868.0 L609.0 869.9 L611.7 869.9 L613.6 866.5 L617.1 864.9 L620.9 864.5 L621.3 861.7 L626.6 861.3 L632.0 860.7 L634.3 858.8 L639.1 858.8 L640.0 858.8 L642.9 858.8 L644.8 864.2 L647.7 863.6 L657.2 863.6 L659.1 868.4 L664.9 868.4 L666.8 872.2 L669.7 872.6 L671.6 875.1 L674.5 876.4 L678.3 876.0 L680.2 871.2 L682.1 866.5 L685.0 862.6 L687.5 862.6 L690.7 865.5 L692.6 869.9 L694.6 874.1 L697.0 877.9 L706.0 877.9 L707.4 864.5 L708.5 854.6 L709.9 850.2 L713.7 849.8 L715.0 837.7 L721.4 837.4 L722.7 843.5 L725.2 843.5 L726.1 841.2 L731.9 841.2 L733.8 845.4 L736.7 848.3 L740.5 849.2 L743.0 846.4 L744.3 838.1 L750.1 837.7 L752.6 833.9 L762.5 833.5 L764.0 831.0 L777.8 831.0 L778.2 821.5 L780.7 814.8 L783.2 809.0 L785.9 805.6 L790.3 804.2 L795.0 804.8 L800.8 805.6" fill="none" stroke="#00B0F0" stroke-width="2.5" stroke-linejoin="round" stroke-linecap="butt"/>
<path d="M495.5 907.6 L497.4 904.7 L499.4 899.0 L500.7 898.0 L504.1 899.0 L508.9 898.6 L510.8 901.9 L513.7 902.8 L519.5 902.8 L522.3 904.7 L524.8 906.3 L526.2 909.5 L529.0 911.4 L531.9 915.3 L533.8 916.6 L535.7 915.3 L537.1 909.5 L539.6 910.9 L544.3 911.4 L547.2 910.1 L552.0 909.5 L554.9 910.9 L558.7 910.9 L561.6 909.5 L565.4 908.9 L569.2 910.5 L573.1 912.4 L576.9 913.3 L580.7 911.4 L583.6 910.5 L589.3 910.1 L592.6 908.2 L596.0 908.6 L598.9 910.9 L601.4 912.0 L603.7 910.1 L607.5 910.1 L610.4 906.6 L612.9 903.2 L615.2 900.9 L617.1 899.0 L621.3 899.4 L625.7 901.3 L628.6 899.0 L632.4 898.0 L634.3 896.1 L637.2 896.7 L639.1 898.6 L640.0 902.4 L647.7 902.4 L652.4 903.8 L657.2 904.7 L660.1 906.6 L668.7 906.6 L671.6 905.1 L673.5 902.4 L680.2 902.4 L683.1 904.4 L693.6 904.4 L696.5 902.4 L699.3 902.4 L702.2 903.8 L712.7 903.8 L715.6 899.9 L718.5 899.9 L721.4 900.9 L724.2 901.5 L727.1 899.0 L731.9 898.0 L735.7 897.5 L739.5 897.7 L741.5 899.6 L746.2 899.6 L749.1 897.1 L751.0 893.2 L752.6 884.1 L754.8 882.7 L756.8 878.9 L758.7 874.1 L766.3 874.1 L768.6 876.0 L770.2 877.9 L781.6 877.9 L783.2 876.0 L786.4 876.4 L787.8 879.5 L789.3 884.6 L791.6 890.4 L793.5 895.2 L795.4 901.3 L797.0 904.4 L798.5 901.3 L799.8 898.0 L800.8 898.0" fill="none" stroke="#FF0000" stroke-width="2.7" stroke-linejoin="round" stroke-linecap="butt"/>
<line x1="495.50" y1="928.10" x2="495.50" y2="931.10" stroke="#DFDFDF" stroke-width="1"/>
<line x1="511.75" y1="928.10" x2="511.75" y2="931.10" stroke="#DFDFDF" stroke-width="1"/>
<line x1="528.00" y1="928.10" x2="528.00" y2="931.10" stroke="#DFDFDF" stroke-width="1"/>
<line x1="544.25" y1="928.10" x2="544.25" y2="931.10" stroke="#DFDFDF" stroke-width="1"/>
<line x1="560.50" y1="928.10" x2="560.50" y2="931.10" stroke="#DFDFDF" stroke-width="1"/>
<line x1="576.75" y1="928.10" x2="576.75" y2="931.10" stroke="#DFDFDF" stroke-width="1"/>
<line x1="593.00" y1="928.10" x2="593.00" y2="931.10" stroke="#DFDFDF" stroke-width="1"/>
<line x1="609.25" y1="928.10" x2="609.25" y2="931.10" stroke="#DFDFDF" stroke-width="1"/>
<line x1="625.50" y1="928.10" x2="625.50" y2="931.10" stroke="#DFDFDF" stroke-width="1"/>
<line x1="641.75" y1="928.10" x2="641.75" y2="931.10" stroke="#DFDFDF" stroke-width="1"/>
<line x1="658.00" y1="928.10" x2="658.00" y2="931.10" stroke="#DFDFDF" stroke-width="1"/>
<line x1="674.25" y1="928.10" x2="674.25" y2="931.10" stroke="#DFDFDF" stroke-width="1"/>
<line x1="690.50" y1="928.10" x2="690.50" y2="931.10" stroke="#DFDFDF" stroke-width="1"/>
<line x1="706.75" y1="928.10" x2="706.75" y2="931.10" stroke="#DFDFDF" stroke-width="1"/>
<line x1="723.00" y1="928.10" x2="723.00" y2="931.10" stroke="#DFDFDF" stroke-width="1"/>
<line x1="739.25" y1="928.10" x2="739.25" y2="931.10" stroke="#DFDFDF" stroke-width="1"/>
<line x1="755.50" y1="928.10" x2="755.50" y2="931.10" stroke="#DFDFDF" stroke-width="1"/>
<line x1="771.75" y1="928.10" x2="771.75" y2="931.10" stroke="#DFDFDF" stroke-width="1"/>
<line x1="788.00" y1="928.10" x2="788.00" y2="931.10" stroke="#DFDFDF" stroke-width="1"/>
<text x="487.00" y="785.60" font-size="10.7" text-anchor="end" class="ax">13,000</text>
<text x="487.00" y="803.95" font-size="10.7" text-anchor="end" class="ax">12,000</text>
<text x="487.00" y="822.30" font-size="10.7" text-anchor="end" class="ax">11,000</text>
<text x="487.00" y="840.65" font-size="10.7" text-anchor="end" class="ax">10,000</text>
<text x="487.00" y="859.00" font-size="10.7" text-anchor="end" class="ax">9,000</text>
<text x="487.00" y="877.35" font-size="10.7" text-anchor="end" class="ax">8,000</text>
<text x="487.00" y="895.70" font-size="10.7" text-anchor="end" class="ax">7,000</text>
<text x="487.00" y="914.05" font-size="10.7" text-anchor="end" class="ax">6,000</text>
<text x="487.00" y="932.40" font-size="10.7" text-anchor="end" class="ax">5,000</text>
<text x="809.80" y="785.60" font-size="10.7" text-anchor="start" class="ax">6,000</text>
<text x="809.80" y="814.96" font-size="10.7" text-anchor="start" class="ax">5,000</text>
<text x="809.80" y="844.32" font-size="10.7" text-anchor="start" class="ax">4,000</text>
<text x="809.80" y="873.68" font-size="10.7" text-anchor="start" class="ax">3,000</text>
<text x="809.80" y="903.04" font-size="10.7" text-anchor="start" class="ax">2,000</text>
<text x="809.80" y="932.40" font-size="10.7" text-anchor="start" class="ax">1,000</text>
<text x="498.80" y="935.30" font-size="9.3" text-anchor="end" class="ax" transform="rotate(-90 498.80 935.30)">2023/08</text>
<text x="515.05" y="935.30" font-size="9.3" text-anchor="end" class="ax" transform="rotate(-90 515.05 935.30)">2023/09</text>
<text x="531.30" y="935.30" font-size="9.3" text-anchor="end" class="ax" transform="rotate(-90 531.30 935.30)">2023/10</text>
<text x="547.55" y="935.30" font-size="9.3" text-anchor="end" class="ax" transform="rotate(-90 547.55 935.30)">2023/11</text>
<text x="563.80" y="935.30" font-size="9.3" text-anchor="end" class="ax" transform="rotate(-90 563.80 935.30)">2023/12</text>
<text x="580.05" y="935.30" font-size="9.3" text-anchor="end" class="ax" transform="rotate(-90 580.05 935.30)">2024/01</text>
<text x="596.30" y="935.30" font-size="9.3" text-anchor="end" class="ax" transform="rotate(-90 596.30 935.30)">2024/02</text>
<text x="612.55" y="935.30" font-size="9.3" text-anchor="end" class="ax" transform="rotate(-90 612.55 935.30)">2024/03</text>
<text x="628.80" y="935.30" font-size="9.3" text-anchor="end" class="ax" transform="rotate(-90 628.80 935.30)">2024/04</text>
<text x="645.05" y="935.30" font-size="9.3" text-anchor="end" class="ax" transform="rotate(-90 645.05 935.30)">2024/05</text>
<text x="661.30" y="935.30" font-size="9.3" text-anchor="end" class="ax" transform="rotate(-90 661.30 935.30)">2024/06</text>
<text x="677.55" y="935.30" font-size="9.3" text-anchor="end" class="ax" transform="rotate(-90 677.55 935.30)">2024/07</text>
<text x="693.80" y="935.30" font-size="9.3" text-anchor="end" class="ax" transform="rotate(-90 693.80 935.30)">2024/08</text>
<text x="710.05" y="935.30" font-size="9.3" text-anchor="end" class="ax" transform="rotate(-90 710.05 935.30)">2024/09</text>
<text x="726.30" y="935.30" font-size="9.3" text-anchor="end" class="ax" transform="rotate(-90 726.30 935.30)">2024/10</text>
<text x="742.55" y="935.30" font-size="9.3" text-anchor="end" class="ax" transform="rotate(-90 742.55 935.30)">2024/11</text>
<text x="758.80" y="935.30" font-size="9.3" text-anchor="end" class="ax" transform="rotate(-90 758.80 935.30)">2024/12</text>
<text x="775.05" y="935.30" font-size="9.3" text-anchor="end" class="ax" transform="rotate(-90 775.05 935.30)">2025/01</text>
<text x="791.30" y="935.30" font-size="9.3" text-anchor="end" class="ax" transform="rotate(-90 791.30 935.30)">2025/02</text>
<text x="578.70" y="769.70" font-size="10.74" text-anchor="start" class="ct" textLength="134.1" lengthAdjust="spacing">丙烯酸甲酯价格价差曲线</text>
<rect x="475.30" y="975.60" width="22.20" height="6.60" fill="#A6A6A6" stroke="#1a1a1a" stroke-width="1.3"/>
<text x="502.40" y="982.10" font-size="9.0" text-anchor="start" class="lg" textLength="137.7" lengthAdjust="spacing">（右轴）丙烯酸甲酯价差 元/吨</text>
<line x1="656.00" y1="978.90" x2="679.50" y2="978.90" stroke="#00B0F0" stroke-width="2.4" stroke-linecap="round"/>
<text x="683.40" y="982.10" font-size="9.0" text-anchor="start" class="lg" textLength="99.2" lengthAdjust="spacing">丙烯酸甲酯价格 元/吨</text>
<line x1="475.00" y1="993.30" x2="498.00" y2="993.30" stroke="#FF0000" stroke-width="2.4" stroke-linecap="round"/>
<text x="501.10" y="996.50" font-size="9.0" text-anchor="start" class="lg" textLength="79.6" lengthAdjust="spacing">丙烯酸价格 元/吨</text>
</svg>
</body></html>
